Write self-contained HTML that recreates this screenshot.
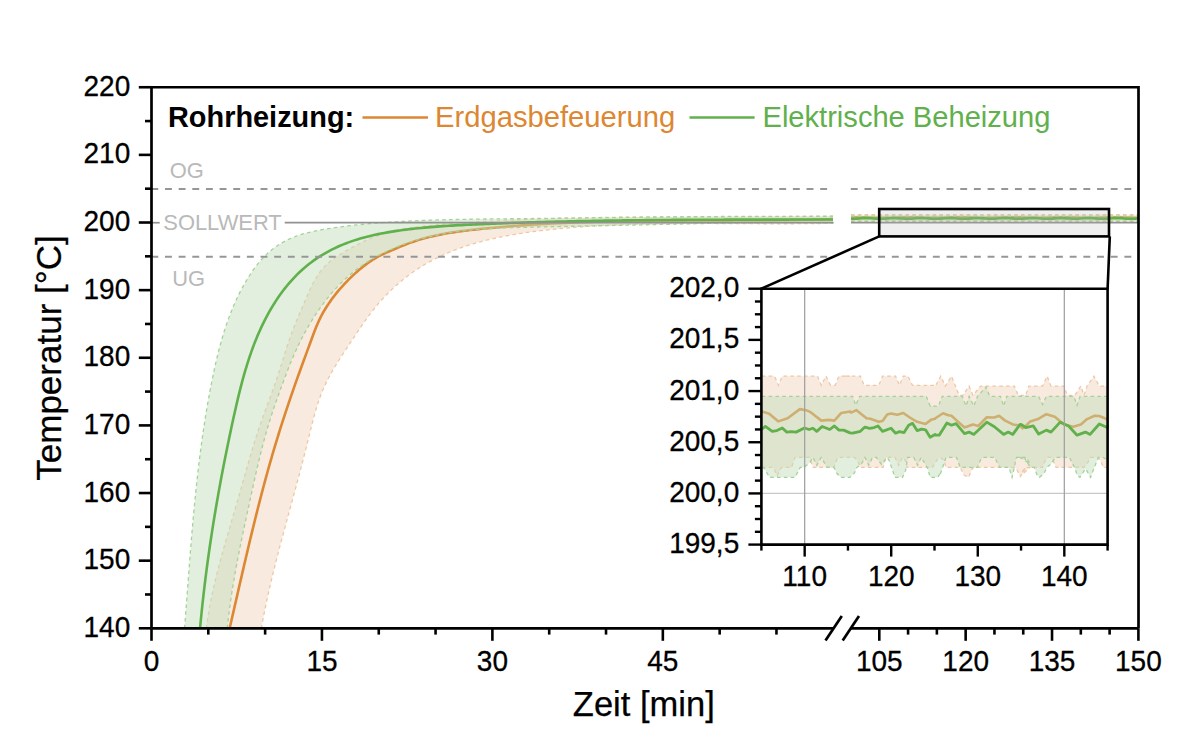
<!DOCTYPE html>
<html><head><meta charset="utf-8"><style>
html,body{margin:0;padding:0;background:#fff;width:1200px;height:750px;overflow:hidden}
svg{display:block}
</style></head><body>
<svg width="1200" height="750" viewBox="0 0 1200 750">
<defs><clipPath id="c1"><rect x="151.5" y="87.25" width="682.1" height="541.05"/></clipPath>
<clipPath id="c2"><rect x="851" y="87.25" width="287.5" height="541.05"/></clipPath>
<clipPath id="ci"><rect x="761.4" y="288.7" width="346.19999999999993" height="255.90000000000003"/></clipPath></defs>
<g clip-path="url(#c1)">
<path d="M206.30,628.30 L206.69,625.29 L207.11,622.29 L207.55,619.30 L208.01,616.31 L208.50,613.33 L209.01,610.35 L209.54,607.38 L210.09,604.42 L210.66,601.46 L211.25,598.50 L211.86,595.55 L212.49,592.61 L213.14,589.67 L213.80,586.73 L214.47,583.80 L215.17,580.87 L215.87,577.94 L216.59,575.02 L217.33,572.10 L218.07,569.19 L218.83,566.28 L219.60,563.37 L220.38,560.46 L221.17,557.56 L221.96,554.65 L222.77,551.75 L223.58,548.86 L224.40,545.96 L225.23,543.06 L226.06,540.17 L226.90,537.28 L227.74,534.38 L228.58,531.49 L229.43,528.60 L230.28,525.71 L231.13,522.82 L231.98,519.93 L232.83,517.04 L233.68,514.15 L234.52,511.25 L235.37,508.36 L236.21,505.47 L237.05,502.57 L237.89,499.67 L238.72,496.78 L239.54,493.88 L240.37,490.98 L241.19,488.07 L242.01,485.17 L242.83,482.27 L243.64,479.37 L244.46,476.47 L245.28,473.57 L246.11,470.67 L246.93,467.77 L247.76,464.87 L248.60,461.97 L249.44,459.08 L250.28,456.19 L251.14,453.30 L252.00,450.41 L252.87,447.53 L253.75,444.65 L254.64,441.77 L255.54,438.90 L256.45,436.03 L257.37,433.17 L258.31,430.31 L259.27,427.45 L260.23,424.60 L261.22,421.76 L262.22,418.92 L263.23,416.09 L264.26,413.26 L265.30,410.43 L266.35,407.61 L267.40,404.79 L268.45,401.97 L269.51,399.15 L270.56,396.33 L271.60,393.50 L272.64,390.67 L273.66,387.83 L274.67,384.99 L275.67,382.15 L276.64,379.29 L277.59,376.43 L278.53,373.56 L279.45,370.68 L280.36,367.80 L281.26,364.92 L282.16,362.04 L283.05,359.16 L283.95,356.28 L284.86,353.40 L285.77,350.53 L286.69,347.66 L287.63,344.81 L288.59,341.96 L289.56,339.12 L290.57,336.30 L291.60,333.48 L292.65,330.68 L293.73,327.89 L294.82,325.11 L295.94,322.33 L297.07,319.56 L298.22,316.79 L299.38,314.02 L300.56,311.26 L301.74,308.48 L302.93,305.71 L304.12,302.93 L305.31,300.14 L306.51,297.34 L307.73,294.55 L308.96,291.76 L310.23,288.99 L311.54,286.25 L312.90,283.55 L314.33,280.89 L315.84,278.28 L317.44,275.74 L319.13,273.26 L320.91,270.87 L322.79,268.57 L324.77,266.36 L326.85,264.25 L329.04,262.26 L331.33,260.38 L333.71,258.59 L336.17,256.90 L338.69,255.27 L341.27,253.69 L343.88,252.16 L346.53,250.65 L349.19,249.15 L351.87,247.66 L354.56,246.20 L357.27,244.76 L360.00,243.36 L362.74,242.00 L365.50,240.69 L368.28,239.43 L371.07,238.23 L373.88,237.09 L376.70,236.02 L379.54,235.03 L382.40,234.09 L385.27,233.22 L388.15,232.41 L391.05,231.65 L393.95,230.94 L396.87,230.29 L399.80,229.68 L402.74,229.12 L405.69,228.59 L408.65,228.11 L411.62,227.66 L414.59,227.25 L417.57,226.86 L420.56,226.50 L423.55,226.17 L426.54,225.86 L429.54,225.56 L432.54,225.28 L435.54,225.02 L438.55,224.76 L441.55,224.51 L444.55,224.26 L447.56,224.03 L450.56,223.79 L453.57,223.56 L456.58,223.34 L459.58,223.12 L462.59,222.91 L465.59,222.70 L468.60,222.50 L471.61,222.30 L474.61,222.10 L477.62,221.91 L480.63,221.73 L483.64,221.55 L486.64,221.38 L489.65,221.21 L492.66,221.04 L495.67,220.88 L498.68,220.72 L501.68,220.57 L504.69,220.42 L507.70,220.27 L510.71,220.13 L513.72,220.00 L516.73,219.86 L519.74,219.73 L522.75,219.61 L525.76,219.49 L528.77,219.37 L531.78,219.26 L534.79,219.15 L537.80,219.04 L540.81,218.93 L543.82,218.83 L546.83,218.74 L549.84,218.65 L552.85,218.56 L555.86,218.47 L558.87,218.38 L561.89,218.30 L564.90,218.23 L567.91,218.15 L570.92,218.08 L573.93,218.01 L576.94,217.94 L579.96,217.88 L582.97,217.82 L585.98,217.76 L588.99,217.70 L592.01,217.65 L595.02,217.60 L598.03,217.55 L601.04,217.50 L604.06,217.46 L607.07,217.42 L610.08,217.38 L613.09,217.34 L616.11,217.30 L619.12,217.27 L622.13,217.24 L625.15,217.21 L628.16,217.18 L631.17,217.15 L634.18,217.12 L637.20,217.10 L640.21,217.08 L643.22,217.06 L646.24,217.04 L649.25,217.02 L652.26,217.00 L655.28,216.98 L658.29,216.97 L661.30,216.96 L664.32,216.94 L667.33,216.93 L670.35,216.92 L673.36,216.91 L676.37,216.90 L679.39,216.89 L682.40,216.88 L685.41,216.87 L688.43,216.87 L691.44,216.86 L694.45,216.85 L697.47,216.85 L700.48,216.84 L703.49,216.84 L706.51,216.83 L709.52,216.83 L712.53,216.82 L715.55,216.81 L718.56,216.81 L721.57,216.80 L724.58,216.80 L727.60,216.79 L730.61,216.79 L733.62,216.78 L736.64,216.77 L739.65,216.76 L742.66,216.75 L745.67,216.75 L748.69,216.74 L751.70,216.73 L754.71,216.71 L757.72,216.70 L760.74,216.69 L763.75,216.67 L766.76,216.66 L769.77,216.64 L772.78,216.63 L775.80,216.61 L778.81,216.59 L781.82,216.57 L784.83,216.54 L787.84,216.52 L790.85,216.49 L793.86,216.46 L796.88,216.44 L799.89,216.40 L802.90,216.37 L805.91,216.34 L808.92,216.30 L811.93,216.26 L814.94,216.22 L817.95,216.18 L820.96,216.13 L823.97,216.09 L826.98,216.04 L829.99,215.99 L833.00,215.93 L833.02,223.22 L830.24,223.28 L827.46,223.34 L824.68,223.40 L821.90,223.45 L819.13,223.49 L816.35,223.53 L813.57,223.57 L810.80,223.60 L808.03,223.63 L805.26,223.66 L802.48,223.68 L799.71,223.70 L796.95,223.72 L794.18,223.74 L791.41,223.75 L788.64,223.76 L785.88,223.76 L783.12,223.77 L780.35,223.77 L777.59,223.77 L774.83,223.77 L772.07,223.76 L769.31,223.75 L766.55,223.75 L763.79,223.74 L761.03,223.73 L758.27,223.72 L755.52,223.70 L752.76,223.69 L750.01,223.68 L747.25,223.66 L744.50,223.65 L741.74,223.63 L738.99,223.62 L736.24,223.60 L733.49,223.58 L730.74,223.57 L727.99,223.55 L725.24,223.54 L722.49,223.52 L719.74,223.51 L716.99,223.50 L714.24,223.49 L711.49,223.47 L708.74,223.47 L706.00,223.46 L703.25,223.45 L700.50,223.45 L697.76,223.44 L695.01,223.44 L692.26,223.44 L689.52,223.45 L686.77,223.45 L684.03,223.46 L681.28,223.47 L678.54,223.49 L675.79,223.50 L673.05,223.52 L670.30,223.54 L667.56,223.57 L664.82,223.60 L662.07,223.63 L659.33,223.67 L656.58,223.71 L653.84,223.75 L651.09,223.80 L648.35,223.86 L645.60,223.91 L642.86,223.97 L640.11,224.04 L637.37,224.11 L634.63,224.19 L631.88,224.27 L629.13,224.36 L626.39,224.45 L623.64,224.54 L620.90,224.65 L618.15,224.76 L615.40,224.87 L612.66,224.99 L609.91,225.12 L607.16,225.25 L604.41,225.39 L601.67,225.53 L598.92,225.69 L596.17,225.85 L593.42,226.01 L590.67,226.18 L587.92,226.37 L585.17,226.55 L582.42,226.75 L579.66,226.95 L576.91,227.16 L574.16,227.38 L571.40,227.61 L568.65,227.84 L565.89,228.08 L563.14,228.34 L560.38,228.60 L557.62,228.86 L554.87,229.14 L552.11,229.43 L549.35,229.72 L546.59,230.03 L543.83,230.34 L541.07,230.67 L538.31,231.00 L535.55,231.35 L532.79,231.71 L530.03,232.08 L527.27,232.46 L524.52,232.86 L521.77,233.27 L519.02,233.70 L516.27,234.14 L513.53,234.59 L510.79,235.07 L508.06,235.56 L505.33,236.07 L502.61,236.60 L499.89,237.15 L497.18,237.71 L494.47,238.30 L491.78,238.91 L489.09,239.54 L486.41,240.19 L483.73,240.86 L481.07,241.56 L478.41,242.28 L475.76,243.03 L473.13,243.80 L470.50,244.60 L467.89,245.42 L465.28,246.27 L462.69,247.15 L460.11,248.06 L457.54,248.99 L454.98,249.95 L452.44,250.95 L449.91,251.97 L447.40,253.03 L444.90,254.12 L442.41,255.24 L439.94,256.39 L437.49,257.58 L435.05,258.80 L432.63,260.05 L430.22,261.35 L427.83,262.67 L425.46,264.04 L423.11,265.44 L420.78,266.88 L418.46,268.35 L416.16,269.87 L413.89,271.43 L411.63,273.02 L409.40,274.65 L407.19,276.31 L405.00,278.01 L402.84,279.75 L400.70,281.51 L398.58,283.31 L396.49,285.15 L394.43,287.01 L392.39,288.90 L390.38,290.83 L388.40,292.78 L386.45,294.76 L384.53,296.77 L382.64,298.80 L380.78,300.86 L378.95,302.94 L377.16,305.05 L375.40,307.18 L373.67,309.33 L371.97,311.51 L370.31,313.70 L368.66,315.91 L367.04,318.13 L365.45,320.37 L363.86,322.62 L362.30,324.89 L360.74,327.16 L359.20,329.44 L357.66,331.73 L356.13,334.03 L354.60,336.32 L353.07,338.62 L351.54,340.92 L350.00,343.22 L348.46,345.52 L346.93,347.83 L345.40,350.14 L343.88,352.45 L342.38,354.77 L340.88,357.10 L339.39,359.43 L337.93,361.77 L336.48,364.12 L335.05,366.48 L333.65,368.85 L332.27,371.24 L330.93,373.63 L329.61,376.04 L328.32,378.47 L327.07,380.91 L325.86,383.36 L324.69,385.84 L323.56,388.33 L322.48,390.84 L321.44,393.37 L320.45,395.92 L319.51,398.50 L318.61,401.09 L317.75,403.69 L316.93,406.32 L316.14,408.95 L315.37,411.60 L314.63,414.25 L313.91,416.91 L313.20,419.58 L312.50,422.25 L311.82,424.93 L311.14,427.61 L310.46,430.29 L309.79,432.97 L309.13,435.65 L308.47,438.33 L307.81,441.02 L307.14,443.70 L306.48,446.38 L305.81,449.06 L305.14,451.74 L304.47,454.42 L303.79,457.10 L303.10,459.77 L302.41,462.44 L301.72,465.12 L301.02,467.79 L300.32,470.46 L299.62,473.12 L298.91,475.79 L298.20,478.46 L297.49,481.12 L296.77,483.78 L296.06,486.45 L295.34,489.11 L294.62,491.77 L293.90,494.43 L293.17,497.09 L292.45,499.75 L291.73,502.41 L291.00,505.07 L290.28,507.73 L289.55,510.39 L288.83,513.05 L288.11,515.70 L287.38,518.36 L286.66,521.02 L285.94,523.68 L285.22,526.34 L284.51,529.00 L283.79,531.66 L283.08,534.32 L282.37,536.98 L281.66,539.64 L280.95,542.30 L280.25,544.97 L279.55,547.63 L278.86,550.29 L278.17,552.96 L277.48,555.63 L276.80,558.29 L276.12,560.96 L275.44,563.63 L274.78,566.31 L274.11,568.98 L273.45,571.65 L272.80,574.33 L272.16,577.01 L271.52,579.69 L270.88,582.37 L270.26,585.05 L269.64,587.74 L269.02,590.43 L268.42,593.12 L267.82,595.81 L267.23,598.50 L266.65,601.20 L266.07,603.90 L265.51,606.60 L264.95,609.30 L264.40,612.01 L263.87,614.72 L263.34,617.43 L262.82,620.15 L262.31,622.86 L261.81,625.59 L261.32,628.31 Z" fill="rgb(248,234,223)"/>
<path d="M206.30,628.30 L206.69,625.29 L207.11,622.29 L207.55,619.30 L208.01,616.31 L208.50,613.33 L209.01,610.35 L209.54,607.38 L210.09,604.42 L210.66,601.46 L211.25,598.50 L211.86,595.55 L212.49,592.61 L213.14,589.67 L213.80,586.73 L214.47,583.80 L215.17,580.87 L215.87,577.94 L216.59,575.02 L217.33,572.10 L218.07,569.19 L218.83,566.28 L219.60,563.37 L220.38,560.46 L221.17,557.56 L221.96,554.65 L222.77,551.75 L223.58,548.86 L224.40,545.96 L225.23,543.06 L226.06,540.17 L226.90,537.28 L227.74,534.38 L228.58,531.49 L229.43,528.60 L230.28,525.71 L231.13,522.82 L231.98,519.93 L232.83,517.04 L233.68,514.15 L234.52,511.25 L235.37,508.36 L236.21,505.47 L237.05,502.57 L237.89,499.67 L238.72,496.78 L239.54,493.88 L240.37,490.98 L241.19,488.07 L242.01,485.17 L242.83,482.27 L243.64,479.37 L244.46,476.47 L245.28,473.57 L246.11,470.67 L246.93,467.77 L247.76,464.87 L248.60,461.97 L249.44,459.08 L250.28,456.19 L251.14,453.30 L252.00,450.41 L252.87,447.53 L253.75,444.65 L254.64,441.77 L255.54,438.90 L256.45,436.03 L257.37,433.17 L258.31,430.31 L259.27,427.45 L260.23,424.60 L261.22,421.76 L262.22,418.92 L263.23,416.09 L264.26,413.26 L265.30,410.43 L266.35,407.61 L267.40,404.79 L268.45,401.97 L269.51,399.15 L270.56,396.33 L271.60,393.50 L272.64,390.67 L273.66,387.83 L274.67,384.99 L275.67,382.15 L276.64,379.29 L277.59,376.43 L278.53,373.56 L279.45,370.68 L280.36,367.80 L281.26,364.92 L282.16,362.04 L283.05,359.16 L283.95,356.28 L284.86,353.40 L285.77,350.53 L286.69,347.66 L287.63,344.81 L288.59,341.96 L289.56,339.12 L290.57,336.30 L291.60,333.48 L292.65,330.68 L293.73,327.89 L294.82,325.11 L295.94,322.33 L297.07,319.56 L298.22,316.79 L299.38,314.02 L300.56,311.26 L301.74,308.48 L302.93,305.71 L304.12,302.93 L305.31,300.14 L306.51,297.34 L307.73,294.55 L308.96,291.76 L310.23,288.99 L311.54,286.25 L312.90,283.55 L314.33,280.89 L315.84,278.28 L317.44,275.74 L319.13,273.26 L320.91,270.87 L322.79,268.57 L324.77,266.36 L326.85,264.25 L329.04,262.26 L331.33,260.38 L333.71,258.59 L336.17,256.90 L338.69,255.27 L341.27,253.69 L343.88,252.16 L346.53,250.65 L349.19,249.15 L351.87,247.66 L354.56,246.20 L357.27,244.76 L360.00,243.36 L362.74,242.00 L365.50,240.69 L368.28,239.43 L371.07,238.23 L373.88,237.09 L376.70,236.02 L379.54,235.03 L382.40,234.09 L385.27,233.22 L388.15,232.41 L391.05,231.65 L393.95,230.94 L396.87,230.29 L399.80,229.68 L402.74,229.12 L405.69,228.59 L408.65,228.11 L411.62,227.66 L414.59,227.25 L417.57,226.86 L420.56,226.50 L423.55,226.17 L426.54,225.86 L429.54,225.56 L432.54,225.28 L435.54,225.02 L438.55,224.76 L441.55,224.51 L444.55,224.26 L447.56,224.03 L450.56,223.79 L453.57,223.56 L456.58,223.34 L459.58,223.12 L462.59,222.91 L465.59,222.70 L468.60,222.50 L471.61,222.30 L474.61,222.10 L477.62,221.91 L480.63,221.73 L483.64,221.55 L486.64,221.38 L489.65,221.21 L492.66,221.04 L495.67,220.88 L498.68,220.72 L501.68,220.57 L504.69,220.42 L507.70,220.27 L510.71,220.13 L513.72,220.00 L516.73,219.86 L519.74,219.73 L522.75,219.61 L525.76,219.49 L528.77,219.37 L531.78,219.26 L534.79,219.15 L537.80,219.04 L540.81,218.93 L543.82,218.83 L546.83,218.74 L549.84,218.65 L552.85,218.56 L555.86,218.47 L558.87,218.38 L561.89,218.30 L564.90,218.23 L567.91,218.15 L570.92,218.08 L573.93,218.01 L576.94,217.94 L579.96,217.88 L582.97,217.82 L585.98,217.76 L588.99,217.70 L592.01,217.65 L595.02,217.60 L598.03,217.55 L601.04,217.50 L604.06,217.46 L607.07,217.42 L610.08,217.38 L613.09,217.34 L616.11,217.30 L619.12,217.27 L622.13,217.24 L625.15,217.21 L628.16,217.18 L631.17,217.15 L634.18,217.12 L637.20,217.10 L640.21,217.08 L643.22,217.06 L646.24,217.04 L649.25,217.02 L652.26,217.00 L655.28,216.98 L658.29,216.97 L661.30,216.96 L664.32,216.94 L667.33,216.93 L670.35,216.92 L673.36,216.91 L676.37,216.90 L679.39,216.89 L682.40,216.88 L685.41,216.87 L688.43,216.87 L691.44,216.86 L694.45,216.85 L697.47,216.85 L700.48,216.84 L703.49,216.84 L706.51,216.83 L709.52,216.83 L712.53,216.82 L715.55,216.81 L718.56,216.81 L721.57,216.80 L724.58,216.80 L727.60,216.79 L730.61,216.79 L733.62,216.78 L736.64,216.77 L739.65,216.76 L742.66,216.75 L745.67,216.75 L748.69,216.74 L751.70,216.73 L754.71,216.71 L757.72,216.70 L760.74,216.69 L763.75,216.67 L766.76,216.66 L769.77,216.64 L772.78,216.63 L775.80,216.61 L778.81,216.59 L781.82,216.57 L784.83,216.54 L787.84,216.52 L790.85,216.49 L793.86,216.46 L796.88,216.44 L799.89,216.40 L802.90,216.37 L805.91,216.34 L808.92,216.30 L811.93,216.26 L814.94,216.22 L817.95,216.18 L820.96,216.13 L823.97,216.09 L826.98,216.04 L829.99,215.99 L833.00,215.93" fill="none" stroke="rgb(238,200,165)" stroke-width="1.3" stroke-dasharray="3.6 3.2"/>
<path d="M261.32,628.31 L261.81,625.59 L262.31,622.86 L262.82,620.15 L263.34,617.43 L263.87,614.72 L264.40,612.01 L264.95,609.30 L265.51,606.60 L266.07,603.90 L266.65,601.20 L267.23,598.50 L267.82,595.81 L268.42,593.12 L269.02,590.43 L269.64,587.74 L270.26,585.05 L270.88,582.37 L271.52,579.69 L272.16,577.01 L272.80,574.33 L273.45,571.65 L274.11,568.98 L274.78,566.31 L275.44,563.63 L276.12,560.96 L276.80,558.29 L277.48,555.63 L278.17,552.96 L278.86,550.29 L279.55,547.63 L280.25,544.97 L280.95,542.30 L281.66,539.64 L282.37,536.98 L283.08,534.32 L283.79,531.66 L284.51,529.00 L285.22,526.34 L285.94,523.68 L286.66,521.02 L287.38,518.36 L288.11,515.70 L288.83,513.05 L289.55,510.39 L290.28,507.73 L291.00,505.07 L291.73,502.41 L292.45,499.75 L293.17,497.09 L293.90,494.43 L294.62,491.77 L295.34,489.11 L296.06,486.45 L296.77,483.78 L297.49,481.12 L298.20,478.46 L298.91,475.79 L299.62,473.12 L300.32,470.46 L301.02,467.79 L301.72,465.12 L302.41,462.44 L303.10,459.77 L303.79,457.10 L304.47,454.42 L305.14,451.74 L305.81,449.06 L306.48,446.38 L307.14,443.70 L307.81,441.02 L308.47,438.33 L309.13,435.65 L309.79,432.97 L310.46,430.29 L311.14,427.61 L311.82,424.93 L312.50,422.25 L313.20,419.58 L313.91,416.91 L314.63,414.25 L315.37,411.60 L316.14,408.95 L316.93,406.32 L317.75,403.69 L318.61,401.09 L319.51,398.50 L320.45,395.92 L321.44,393.37 L322.48,390.84 L323.56,388.33 L324.69,385.84 L325.86,383.36 L327.07,380.91 L328.32,378.47 L329.61,376.04 L330.93,373.63 L332.27,371.24 L333.65,368.85 L335.05,366.48 L336.48,364.12 L337.93,361.77 L339.39,359.43 L340.88,357.10 L342.38,354.77 L343.88,352.45 L345.40,350.14 L346.93,347.83 L348.46,345.52 L350.00,343.22 L351.54,340.92 L353.07,338.62 L354.60,336.32 L356.13,334.03 L357.66,331.73 L359.20,329.44 L360.74,327.16 L362.30,324.89 L363.86,322.62 L365.45,320.37 L367.04,318.13 L368.66,315.91 L370.31,313.70 L371.97,311.51 L373.67,309.33 L375.40,307.18 L377.16,305.05 L378.95,302.94 L380.78,300.86 L382.64,298.80 L384.53,296.77 L386.45,294.76 L388.40,292.78 L390.38,290.83 L392.39,288.90 L394.43,287.01 L396.49,285.15 L398.58,283.31 L400.70,281.51 L402.84,279.75 L405.00,278.01 L407.19,276.31 L409.40,274.65 L411.63,273.02 L413.89,271.43 L416.16,269.87 L418.46,268.35 L420.78,266.88 L423.11,265.44 L425.46,264.04 L427.83,262.67 L430.22,261.35 L432.63,260.05 L435.05,258.80 L437.49,257.58 L439.94,256.39 L442.41,255.24 L444.90,254.12 L447.40,253.03 L449.91,251.97 L452.44,250.95 L454.98,249.95 L457.54,248.99 L460.11,248.06 L462.69,247.15 L465.28,246.27 L467.89,245.42 L470.50,244.60 L473.13,243.80 L475.76,243.03 L478.41,242.28 L481.07,241.56 L483.73,240.86 L486.41,240.19 L489.09,239.54 L491.78,238.91 L494.47,238.30 L497.18,237.71 L499.89,237.15 L502.61,236.60 L505.33,236.07 L508.06,235.56 L510.79,235.07 L513.53,234.59 L516.27,234.14 L519.02,233.70 L521.77,233.27 L524.52,232.86 L527.27,232.46 L530.03,232.08 L532.79,231.71 L535.55,231.35 L538.31,231.00 L541.07,230.67 L543.83,230.34 L546.59,230.03 L549.35,229.72 L552.11,229.43 L554.87,229.14 L557.62,228.86 L560.38,228.60 L563.14,228.34 L565.89,228.08 L568.65,227.84 L571.40,227.61 L574.16,227.38 L576.91,227.16 L579.66,226.95 L582.42,226.75 L585.17,226.55 L587.92,226.37 L590.67,226.18 L593.42,226.01 L596.17,225.85 L598.92,225.69 L601.67,225.53 L604.41,225.39 L607.16,225.25 L609.91,225.12 L612.66,224.99 L615.40,224.87 L618.15,224.76 L620.90,224.65 L623.64,224.54 L626.39,224.45 L629.13,224.36 L631.88,224.27 L634.63,224.19 L637.37,224.11 L640.11,224.04 L642.86,223.97 L645.60,223.91 L648.35,223.86 L651.09,223.80 L653.84,223.75 L656.58,223.71 L659.33,223.67 L662.07,223.63 L664.82,223.60 L667.56,223.57 L670.30,223.54 L673.05,223.52 L675.79,223.50 L678.54,223.49 L681.28,223.47 L684.03,223.46 L686.77,223.45 L689.52,223.45 L692.26,223.44 L695.01,223.44 L697.76,223.44 L700.50,223.45 L703.25,223.45 L706.00,223.46 L708.74,223.47 L711.49,223.47 L714.24,223.49 L716.99,223.50 L719.74,223.51 L722.49,223.52 L725.24,223.54 L727.99,223.55 L730.74,223.57 L733.49,223.58 L736.24,223.60 L738.99,223.62 L741.74,223.63 L744.50,223.65 L747.25,223.66 L750.01,223.68 L752.76,223.69 L755.52,223.70 L758.27,223.72 L761.03,223.73 L763.79,223.74 L766.55,223.75 L769.31,223.75 L772.07,223.76 L774.83,223.77 L777.59,223.77 L780.35,223.77 L783.12,223.77 L785.88,223.76 L788.64,223.76 L791.41,223.75 L794.18,223.74 L796.95,223.72 L799.71,223.70 L802.48,223.68 L805.26,223.66 L808.03,223.63 L810.80,223.60 L813.57,223.57 L816.35,223.53 L819.13,223.49 L821.90,223.45 L824.68,223.40 L827.46,223.34 L830.24,223.28 L833.02,223.22" fill="none" stroke="rgb(238,200,165)" stroke-width="1.3" stroke-dasharray="3.6 3.2"/>
<path d="M229.63,628.31 L230.28,625.48 L230.94,622.64 L231.59,619.81 L232.24,616.98 L232.89,614.15 L233.54,611.31 L234.19,608.48 L234.84,605.65 L235.49,602.82 L236.14,599.98 L236.79,597.15 L237.43,594.32 L238.08,591.49 L238.73,588.65 L239.38,585.82 L240.03,582.99 L240.68,580.16 L241.34,577.33 L241.99,574.49 L242.64,571.66 L243.30,568.83 L243.95,566.00 L244.61,563.17 L245.27,560.34 L245.93,557.51 L246.60,554.69 L247.26,551.86 L247.93,549.03 L248.60,546.20 L249.27,543.38 L249.95,540.55 L250.62,537.73 L251.30,534.90 L251.99,532.08 L252.67,529.26 L253.36,526.44 L254.05,523.62 L254.75,520.80 L255.45,517.98 L256.15,515.16 L256.86,512.34 L257.57,509.53 L258.28,506.71 L259.00,503.90 L259.72,501.08 L260.45,498.27 L261.18,495.46 L261.92,492.65 L262.66,489.84 L263.40,487.04 L264.15,484.23 L264.91,481.43 L265.67,478.62 L266.43,475.82 L267.21,473.02 L267.98,470.22 L268.77,467.43 L269.56,464.63 L270.35,461.84 L271.15,459.05 L271.96,456.25 L272.77,453.46 L273.59,450.68 L274.42,447.89 L275.25,445.11 L276.09,442.32 L276.94,439.54 L277.79,436.76 L278.65,433.99 L279.52,431.21 L280.39,428.44 L281.27,425.67 L282.15,422.90 L283.04,420.13 L283.94,417.37 L284.84,414.60 L285.75,411.84 L286.66,409.08 L287.58,406.33 L288.50,403.57 L289.43,400.82 L290.37,398.07 L291.31,395.33 L292.26,392.58 L293.21,389.84 L294.17,387.10 L295.13,384.36 L296.10,381.63 L297.07,378.89 L298.05,376.16 L299.03,373.44 L300.01,370.71 L301.00,367.99 L302.00,365.26 L302.99,362.54 L303.99,359.81 L304.99,357.09 L305.99,354.36 L306.99,351.64 L307.99,348.91 L308.99,346.18 L309.99,343.44 L311.00,340.71 L312.00,337.97 L313.01,335.23 L314.03,332.50 L315.08,329.78 L316.16,327.08 L317.29,324.40 L318.46,321.74 L319.69,319.12 L320.99,316.53 L322.34,313.98 L323.76,311.46 L325.24,308.97 L326.77,306.51 L328.36,304.09 L330.00,301.70 L331.68,299.33 L333.42,297.00 L335.20,294.70 L337.02,292.43 L338.89,290.19 L340.80,287.98 L342.74,285.80 L344.72,283.65 L346.74,281.54 L348.79,279.46 L350.88,277.41 L352.99,275.39 L355.13,273.40 L357.30,271.45 L359.49,269.55 L361.73,267.68 L363.99,265.87 L366.30,264.12 L368.64,262.43 L371.03,260.81 L373.46,259.26 L375.94,257.79 L378.46,256.40 L381.03,255.10 L383.65,253.86 L386.29,252.66 L388.95,251.50 L391.63,250.35 L394.32,249.20 L397.01,248.05 L399.72,246.91 L402.43,245.79 L405.15,244.70 L407.87,243.65 L410.62,242.63 L413.37,241.67 L416.13,240.75 L418.90,239.88 L421.69,239.05 L424.48,238.27 L427.28,237.53 L430.09,236.82 L432.91,236.16 L435.74,235.52 L438.58,234.93 L441.42,234.36 L444.27,233.82 L447.12,233.32 L449.98,232.84 L452.85,232.38 L455.72,231.95 L458.59,231.54 L461.47,231.15 L464.35,230.78 L467.24,230.42 L470.13,230.08 L473.02,229.75 L475.91,229.44 L478.80,229.13 L481.69,228.83 L484.58,228.54 L487.48,228.25 L490.37,227.98 L493.26,227.71 L496.16,227.44 L499.05,227.18 L501.95,226.93 L504.84,226.69 L507.74,226.45 L510.63,226.22 L513.53,225.99 L516.43,225.77 L519.32,225.56 L522.22,225.35 L525.12,225.15 L528.02,224.95 L530.92,224.76 L533.81,224.57 L536.71,224.39 L539.61,224.22 L542.51,224.05 L545.41,223.89 L548.31,223.73 L551.21,223.57 L554.11,223.42 L557.01,223.28 L559.92,223.14 L562.82,223.01 L565.72,222.88 L568.62,222.75 L571.52,222.63 L574.43,222.52 L577.33,222.40 L580.23,222.30 L583.13,222.19 L586.04,222.09 L588.94,222.00 L591.84,221.91 L594.75,221.82 L597.65,221.73 L600.56,221.65 L603.46,221.57 L606.37,221.50 L609.27,221.43 L612.18,221.36 L615.08,221.30 L617.99,221.24 L620.89,221.18 L623.80,221.12 L626.70,221.07 L629.61,221.02 L632.52,220.98 L635.42,220.93 L638.33,220.89 L641.23,220.85 L644.14,220.81 L647.05,220.78 L649.95,220.74 L652.86,220.71 L655.77,220.68 L658.67,220.66 L661.58,220.63 L664.49,220.61 L667.39,220.59 L670.30,220.56 L673.21,220.55 L676.11,220.53 L679.02,220.51 L681.93,220.50 L684.84,220.48 L687.74,220.47 L690.65,220.46 L693.56,220.44 L696.46,220.43 L699.37,220.42 L702.28,220.41 L705.19,220.40 L708.09,220.40 L711.00,220.39 L713.91,220.38 L716.81,220.37 L719.72,220.36 L722.63,220.35 L725.54,220.35 L728.44,220.34 L731.35,220.33 L734.26,220.32 L737.16,220.31 L740.07,220.30 L742.98,220.29 L745.88,220.28 L748.79,220.27 L751.69,220.25 L754.60,220.24 L757.51,220.22 L760.41,220.21 L763.32,220.19 L766.22,220.17 L769.13,220.15 L772.03,220.13 L774.94,220.10 L777.84,220.08 L780.75,220.05 L783.65,220.02 L786.56,219.99 L789.46,219.96 L792.36,219.92 L795.27,219.89 L798.17,219.85 L801.07,219.80 L803.98,219.76 L806.88,219.71 L809.78,219.66 L812.69,219.61 L815.59,219.56 L818.49,219.50 L821.39,219.44 L824.29,219.37 L827.19,219.31 L830.10,219.23 L833.00,219.16" fill="none" stroke="rgb(220,135,50)" stroke-width="2.6"/>
<path d="M184.54,628.30 L184.79,625.09 L185.04,621.88 L185.29,618.68 L185.53,615.47 L185.78,612.26 L186.02,609.06 L186.27,605.85 L186.51,602.64 L186.75,599.43 L186.99,596.22 L187.24,593.02 L187.48,589.81 L187.72,586.60 L187.96,583.39 L188.20,580.18 L188.45,576.97 L188.69,573.76 L188.94,570.55 L189.18,567.35 L189.43,564.14 L189.68,560.93 L189.93,557.72 L190.18,554.51 L190.44,551.30 L190.70,548.10 L190.96,544.89 L191.22,541.68 L191.48,538.47 L191.75,535.27 L192.02,532.06 L192.30,528.85 L192.58,525.65 L192.86,522.44 L193.14,519.24 L193.43,516.03 L193.73,512.83 L194.03,509.62 L194.33,506.42 L194.64,503.22 L194.95,500.02 L195.27,496.81 L195.60,493.61 L195.92,490.41 L196.26,487.21 L196.60,484.02 L196.95,480.82 L197.30,477.62 L197.66,474.42 L198.03,471.23 L198.40,468.03 L198.78,464.84 L199.17,461.64 L199.56,458.45 L199.96,455.26 L200.37,452.07 L200.79,448.88 L201.21,445.69 L201.65,442.50 L202.09,439.32 L202.54,436.13 L203.00,432.95 L203.47,429.77 L203.94,426.58 L204.43,423.40 L204.93,420.22 L205.43,417.04 L205.95,413.87 L206.47,410.69 L207.01,407.52 L207.55,404.34 L208.11,401.17 L208.68,398.00 L209.25,394.83 L209.84,391.66 L210.44,388.50 L211.06,385.33 L211.68,382.17 L212.31,379.01 L212.96,375.85 L213.62,372.69 L214.30,369.53 L214.99,366.38 L215.70,363.23 L216.42,360.09 L217.17,356.95 L217.93,353.82 L218.72,350.70 L219.53,347.58 L220.37,344.47 L221.23,341.37 L222.11,338.28 L223.03,335.20 L223.97,332.13 L224.94,329.07 L225.94,326.02 L226.98,322.98 L228.05,319.95 L229.15,316.94 L230.29,313.95 L231.47,310.96 L232.68,308.00 L233.93,305.04 L235.23,302.11 L236.56,299.19 L237.94,296.29 L239.36,293.41 L240.83,290.54 L242.34,287.70 L243.90,284.88 L245.51,282.07 L247.17,279.29 L248.88,276.53 L250.64,273.80 L252.46,271.11 L254.34,268.46 L256.28,265.86 L258.29,263.32 L260.36,260.84 L262.51,258.44 L264.73,256.12 L267.02,253.88 L269.40,251.74 L271.85,249.70 L274.39,247.76 L276.99,245.93 L279.67,244.20 L282.42,242.57 L285.23,241.04 L288.09,239.61 L291.00,238.28 L293.96,237.05 L296.97,235.91 L300.01,234.88 L303.08,233.93 L306.18,233.07 L309.31,232.28 L312.45,231.57 L315.61,230.90 L318.79,230.28 L321.96,229.70 L325.14,229.15 L328.33,228.62 L331.52,228.12 L334.70,227.65 L337.90,227.20 L341.09,226.77 L344.28,226.36 L347.48,225.96 L350.67,225.59 L353.87,225.23 L357.06,224.88 L360.26,224.56 L363.46,224.25 L366.66,223.95 L369.86,223.67 L373.06,223.39 L376.26,223.14 L379.46,222.89 L382.66,222.65 L385.87,222.43 L389.07,222.21 L392.28,222.01 L395.48,221.81 L398.69,221.62 L401.90,221.44 L405.11,221.27 L408.32,221.11 L411.53,220.96 L414.74,220.81 L417.95,220.67 L421.16,220.54 L424.38,220.41 L427.59,220.29 L430.80,220.18 L434.02,220.07 L437.23,219.97 L440.45,219.88 L443.66,219.79 L446.88,219.71 L450.10,219.63 L453.32,219.55 L456.53,219.48 L459.75,219.42 L462.97,219.36 L466.19,219.30 L469.41,219.25 L472.62,219.19 L475.84,219.15 L479.06,219.10 L482.28,219.06 L485.50,219.02 L488.72,218.98 L491.94,218.94 L495.16,218.91 L498.38,218.87 L501.60,218.84 L504.82,218.81 L508.04,218.78 L511.26,218.75 L514.48,218.72 L517.70,218.69 L520.92,218.65 L524.14,218.62 L527.36,218.59 L530.58,218.56 L533.80,218.52 L537.02,218.49 L540.23,218.45 L543.45,218.42 L546.67,218.38 L549.89,218.35 L553.11,218.31 L556.33,218.27 L559.54,218.23 L562.76,218.20 L565.98,218.16 L569.20,218.12 L572.41,218.08 L575.63,218.04 L578.85,218.01 L582.07,217.97 L585.28,217.93 L588.50,217.89 L591.72,217.85 L594.93,217.81 L598.15,217.77 L601.37,217.73 L604.58,217.69 L607.80,217.65 L611.02,217.62 L614.23,217.58 L617.45,217.54 L620.67,217.50 L623.88,217.46 L627.10,217.42 L630.32,217.38 L633.53,217.35 L636.75,217.31 L639.96,217.27 L643.18,217.24 L646.40,217.20 L649.61,217.16 L652.83,217.13 L656.04,217.09 L659.26,217.06 L662.48,217.02 L665.69,216.99 L668.91,216.95 L672.13,216.92 L675.34,216.89 L678.56,216.86 L681.77,216.83 L684.99,216.80 L688.21,216.77 L691.42,216.74 L694.64,216.71 L697.85,216.68 L701.07,216.65 L704.29,216.63 L707.50,216.60 L710.72,216.58 L713.93,216.55 L717.15,216.53 L720.37,216.51 L723.58,216.49 L726.80,216.47 L730.02,216.45 L733.23,216.43 L736.45,216.42 L739.67,216.40 L742.88,216.39 L746.10,216.37 L749.32,216.36 L752.54,216.35 L755.75,216.34 L758.97,216.33 L762.19,216.32 L765.41,216.32 L768.62,216.31 L771.84,216.31 L775.06,216.31 L778.28,216.30 L781.49,216.30 L784.71,216.31 L787.93,216.31 L791.15,216.31 L794.37,216.32 L797.59,216.33 L800.81,216.34 L804.02,216.35 L807.24,216.36 L810.46,216.38 L813.68,216.39 L816.90,216.41 L820.12,216.43 L823.34,216.45 L826.56,216.47 L829.78,216.50 L833.00,216.52 L833.00,223.00 L830.07,222.95 L827.14,222.91 L824.21,222.87 L821.28,222.83 L818.35,222.80 L815.43,222.77 L812.50,222.74 L809.57,222.72 L806.64,222.70 L803.72,222.68 L800.79,222.67 L797.87,222.66 L794.94,222.65 L792.02,222.64 L789.09,222.64 L786.17,222.64 L783.24,222.64 L780.32,222.65 L777.40,222.66 L774.47,222.67 L771.55,222.68 L768.63,222.69 L765.71,222.71 L762.78,222.73 L759.86,222.75 L756.94,222.78 L754.02,222.80 L751.10,222.83 L748.18,222.86 L745.26,222.89 L742.34,222.93 L739.41,222.96 L736.49,223.00 L733.57,223.04 L730.65,223.08 L727.73,223.12 L724.81,223.17 L721.89,223.21 L718.97,223.26 L716.05,223.31 L713.13,223.36 L710.22,223.41 L707.30,223.46 L704.38,223.51 L701.46,223.57 L698.54,223.62 L695.62,223.68 L692.70,223.74 L689.78,223.80 L686.86,223.86 L683.94,223.92 L681.02,223.98 L678.10,224.04 L675.18,224.10 L672.26,224.16 L669.34,224.23 L666.42,224.29 L663.50,224.35 L660.58,224.42 L657.65,224.48 L654.73,224.55 L651.81,224.61 L648.89,224.68 L645.97,224.74 L643.05,224.81 L640.13,224.87 L637.20,224.94 L634.28,225.00 L631.36,225.07 L628.43,225.13 L625.51,225.19 L622.59,225.26 L619.66,225.32 L616.74,225.38 L613.81,225.44 L610.89,225.51 L607.96,225.57 L605.04,225.63 L602.11,225.69 L599.19,225.74 L596.26,225.80 L593.33,225.86 L590.40,225.92 L587.48,225.97 L584.55,226.03 L581.62,226.08 L578.69,226.14 L575.77,226.19 L572.84,226.25 L569.91,226.30 L566.98,226.36 L564.05,226.42 L561.13,226.48 L558.20,226.53 L555.27,226.59 L552.35,226.66 L549.42,226.72 L546.50,226.78 L543.57,226.85 L540.65,226.91 L537.72,226.98 L534.80,227.05 L531.88,227.13 L528.95,227.20 L526.03,227.28 L523.11,227.36 L520.20,227.44 L517.28,227.53 L514.36,227.62 L511.44,227.71 L508.53,227.81 L505.62,227.92 L502.70,228.03 L499.79,228.15 L496.88,228.29 L493.97,228.43 L491.06,228.59 L488.16,228.76 L485.25,228.94 L482.35,229.14 L479.45,229.36 L476.54,229.59 L473.64,229.84 L470.75,230.11 L467.85,230.40 L464.96,230.72 L462.06,231.05 L459.17,231.41 L456.28,231.79 L453.39,232.20 L450.51,232.64 L447.62,233.10 L444.74,233.60 L441.86,234.12 L438.98,234.67 L436.10,235.26 L433.23,235.88 L430.36,236.53 L427.49,237.21 L424.64,237.93 L421.79,238.68 L418.94,239.46 L416.11,240.28 L413.29,241.14 L410.48,242.03 L407.69,242.96 L404.91,243.92 L402.14,244.92 L399.39,245.96 L396.65,247.04 L393.94,248.15 L391.24,249.30 L388.57,250.50 L385.91,251.73 L383.28,253.00 L380.67,254.31 L378.09,255.67 L375.53,257.06 L372.99,258.50 L370.49,259.98 L368.01,261.50 L365.57,263.06 L363.15,264.67 L360.77,266.32 L358.42,268.02 L356.10,269.76 L353.82,271.55 L351.58,273.38 L349.37,275.25 L347.19,277.17 L345.05,279.13 L342.94,281.12 L340.86,283.16 L338.82,285.23 L336.81,287.34 L334.84,289.48 L332.90,291.66 L330.99,293.87 L329.11,296.12 L327.27,298.39 L325.45,300.70 L323.67,303.03 L321.92,305.39 L320.20,307.78 L318.52,310.19 L316.86,312.62 L315.23,315.08 L313.64,317.56 L312.07,320.06 L310.54,322.58 L309.03,325.12 L307.55,327.68 L306.11,330.25 L304.69,332.84 L303.30,335.44 L301.94,338.06 L300.60,340.69 L299.30,343.32 L298.02,345.97 L296.77,348.63 L295.55,351.29 L294.35,353.96 L293.18,356.63 L292.04,359.31 L290.92,361.99 L289.83,364.67 L288.77,367.36 L287.72,370.04 L286.69,372.73 L285.67,375.43 L284.65,378.13 L283.64,380.83 L282.63,383.55 L281.62,386.26 L280.62,388.99 L279.62,391.72 L278.62,394.46 L277.63,397.20 L276.66,399.95 L275.69,402.70 L274.73,405.46 L273.78,408.23 L272.84,411.00 L271.92,413.78 L271.02,416.56 L270.13,419.35 L269.26,422.15 L268.41,424.95 L267.57,427.75 L266.75,430.56 L265.95,433.37 L265.16,436.19 L264.39,439.01 L263.63,441.84 L262.88,444.67 L262.14,447.50 L261.42,450.33 L260.71,453.17 L260.01,456.02 L259.31,458.86 L258.63,461.71 L257.96,464.56 L257.29,467.41 L256.63,470.26 L255.98,473.12 L255.33,475.97 L254.69,478.83 L254.06,481.69 L253.42,484.55 L252.79,487.41 L252.17,490.27 L251.54,493.13 L250.92,495.99 L250.30,498.85 L249.68,501.71 L249.06,504.57 L248.44,507.43 L247.82,510.29 L247.20,513.15 L246.58,516.01 L245.96,518.86 L245.35,521.72 L244.74,524.58 L244.13,527.44 L243.52,530.30 L242.92,533.16 L242.32,536.02 L241.73,538.88 L241.14,541.74 L240.56,544.60 L239.98,547.46 L239.41,550.33 L238.84,553.19 L238.28,556.06 L237.72,558.92 L237.18,561.79 L236.64,564.66 L236.10,567.53 L235.58,570.40 L235.06,573.28 L234.56,576.15 L234.06,579.03 L233.57,581.91 L233.09,584.79 L232.62,587.67 L232.16,590.56 L231.71,593.45 L231.28,596.34 L230.85,599.23 L230.44,602.12 L230.03,605.02 L229.65,607.92 L229.27,610.82 L228.91,613.73 L228.56,616.64 L228.22,619.55 L227.90,622.46 L227.59,625.38 L227.30,628.30 Z" fill="rgba(193,221,185,0.47)"/>
<path d="M184.54,628.30 L184.79,625.09 L185.04,621.88 L185.29,618.68 L185.53,615.47 L185.78,612.26 L186.02,609.06 L186.27,605.85 L186.51,602.64 L186.75,599.43 L186.99,596.22 L187.24,593.02 L187.48,589.81 L187.72,586.60 L187.96,583.39 L188.20,580.18 L188.45,576.97 L188.69,573.76 L188.94,570.55 L189.18,567.35 L189.43,564.14 L189.68,560.93 L189.93,557.72 L190.18,554.51 L190.44,551.30 L190.70,548.10 L190.96,544.89 L191.22,541.68 L191.48,538.47 L191.75,535.27 L192.02,532.06 L192.30,528.85 L192.58,525.65 L192.86,522.44 L193.14,519.24 L193.43,516.03 L193.73,512.83 L194.03,509.62 L194.33,506.42 L194.64,503.22 L194.95,500.02 L195.27,496.81 L195.60,493.61 L195.92,490.41 L196.26,487.21 L196.60,484.02 L196.95,480.82 L197.30,477.62 L197.66,474.42 L198.03,471.23 L198.40,468.03 L198.78,464.84 L199.17,461.64 L199.56,458.45 L199.96,455.26 L200.37,452.07 L200.79,448.88 L201.21,445.69 L201.65,442.50 L202.09,439.32 L202.54,436.13 L203.00,432.95 L203.47,429.77 L203.94,426.58 L204.43,423.40 L204.93,420.22 L205.43,417.04 L205.95,413.87 L206.47,410.69 L207.01,407.52 L207.55,404.34 L208.11,401.17 L208.68,398.00 L209.25,394.83 L209.84,391.66 L210.44,388.50 L211.06,385.33 L211.68,382.17 L212.31,379.01 L212.96,375.85 L213.62,372.69 L214.30,369.53 L214.99,366.38 L215.70,363.23 L216.42,360.09 L217.17,356.95 L217.93,353.82 L218.72,350.70 L219.53,347.58 L220.37,344.47 L221.23,341.37 L222.11,338.28 L223.03,335.20 L223.97,332.13 L224.94,329.07 L225.94,326.02 L226.98,322.98 L228.05,319.95 L229.15,316.94 L230.29,313.95 L231.47,310.96 L232.68,308.00 L233.93,305.04 L235.23,302.11 L236.56,299.19 L237.94,296.29 L239.36,293.41 L240.83,290.54 L242.34,287.70 L243.90,284.88 L245.51,282.07 L247.17,279.29 L248.88,276.53 L250.64,273.80 L252.46,271.11 L254.34,268.46 L256.28,265.86 L258.29,263.32 L260.36,260.84 L262.51,258.44 L264.73,256.12 L267.02,253.88 L269.40,251.74 L271.85,249.70 L274.39,247.76 L276.99,245.93 L279.67,244.20 L282.42,242.57 L285.23,241.04 L288.09,239.61 L291.00,238.28 L293.96,237.05 L296.97,235.91 L300.01,234.88 L303.08,233.93 L306.18,233.07 L309.31,232.28 L312.45,231.57 L315.61,230.90 L318.79,230.28 L321.96,229.70 L325.14,229.15 L328.33,228.62 L331.52,228.12 L334.70,227.65 L337.90,227.20 L341.09,226.77 L344.28,226.36 L347.48,225.96 L350.67,225.59 L353.87,225.23 L357.06,224.88 L360.26,224.56 L363.46,224.25 L366.66,223.95 L369.86,223.67 L373.06,223.39 L376.26,223.14 L379.46,222.89 L382.66,222.65 L385.87,222.43 L389.07,222.21 L392.28,222.01 L395.48,221.81 L398.69,221.62 L401.90,221.44 L405.11,221.27 L408.32,221.11 L411.53,220.96 L414.74,220.81 L417.95,220.67 L421.16,220.54 L424.38,220.41 L427.59,220.29 L430.80,220.18 L434.02,220.07 L437.23,219.97 L440.45,219.88 L443.66,219.79 L446.88,219.71 L450.10,219.63 L453.32,219.55 L456.53,219.48 L459.75,219.42 L462.97,219.36 L466.19,219.30 L469.41,219.25 L472.62,219.19 L475.84,219.15 L479.06,219.10 L482.28,219.06 L485.50,219.02 L488.72,218.98 L491.94,218.94 L495.16,218.91 L498.38,218.87 L501.60,218.84 L504.82,218.81 L508.04,218.78 L511.26,218.75 L514.48,218.72 L517.70,218.69 L520.92,218.65 L524.14,218.62 L527.36,218.59 L530.58,218.56 L533.80,218.52 L537.02,218.49 L540.23,218.45 L543.45,218.42 L546.67,218.38 L549.89,218.35 L553.11,218.31 L556.33,218.27 L559.54,218.23 L562.76,218.20 L565.98,218.16 L569.20,218.12 L572.41,218.08 L575.63,218.04 L578.85,218.01 L582.07,217.97 L585.28,217.93 L588.50,217.89 L591.72,217.85 L594.93,217.81 L598.15,217.77 L601.37,217.73 L604.58,217.69 L607.80,217.65 L611.02,217.62 L614.23,217.58 L617.45,217.54 L620.67,217.50 L623.88,217.46 L627.10,217.42 L630.32,217.38 L633.53,217.35 L636.75,217.31 L639.96,217.27 L643.18,217.24 L646.40,217.20 L649.61,217.16 L652.83,217.13 L656.04,217.09 L659.26,217.06 L662.48,217.02 L665.69,216.99 L668.91,216.95 L672.13,216.92 L675.34,216.89 L678.56,216.86 L681.77,216.83 L684.99,216.80 L688.21,216.77 L691.42,216.74 L694.64,216.71 L697.85,216.68 L701.07,216.65 L704.29,216.63 L707.50,216.60 L710.72,216.58 L713.93,216.55 L717.15,216.53 L720.37,216.51 L723.58,216.49 L726.80,216.47 L730.02,216.45 L733.23,216.43 L736.45,216.42 L739.67,216.40 L742.88,216.39 L746.10,216.37 L749.32,216.36 L752.54,216.35 L755.75,216.34 L758.97,216.33 L762.19,216.32 L765.41,216.32 L768.62,216.31 L771.84,216.31 L775.06,216.31 L778.28,216.30 L781.49,216.30 L784.71,216.31 L787.93,216.31 L791.15,216.31 L794.37,216.32 L797.59,216.33 L800.81,216.34 L804.02,216.35 L807.24,216.36 L810.46,216.38 L813.68,216.39 L816.90,216.41 L820.12,216.43 L823.34,216.45 L826.56,216.47 L829.78,216.50 L833.00,216.52" fill="none" stroke="rgb(163,211,152)" stroke-width="1.3" stroke-dasharray="3.6 3.2"/>
<path d="M227.30,628.30 L227.59,625.38 L227.90,622.46 L228.22,619.55 L228.56,616.64 L228.91,613.73 L229.27,610.82 L229.65,607.92 L230.03,605.02 L230.44,602.12 L230.85,599.23 L231.28,596.34 L231.71,593.45 L232.16,590.56 L232.62,587.67 L233.09,584.79 L233.57,581.91 L234.06,579.03 L234.56,576.15 L235.06,573.28 L235.58,570.40 L236.10,567.53 L236.64,564.66 L237.18,561.79 L237.72,558.92 L238.28,556.06 L238.84,553.19 L239.41,550.33 L239.98,547.46 L240.56,544.60 L241.14,541.74 L241.73,538.88 L242.32,536.02 L242.92,533.16 L243.52,530.30 L244.13,527.44 L244.74,524.58 L245.35,521.72 L245.96,518.86 L246.58,516.01 L247.20,513.15 L247.82,510.29 L248.44,507.43 L249.06,504.57 L249.68,501.71 L250.30,498.85 L250.92,495.99 L251.54,493.13 L252.17,490.27 L252.79,487.41 L253.42,484.55 L254.06,481.69 L254.69,478.83 L255.33,475.97 L255.98,473.12 L256.63,470.26 L257.29,467.41 L257.96,464.56 L258.63,461.71 L259.31,458.86 L260.01,456.02 L260.71,453.17 L261.42,450.33 L262.14,447.50 L262.88,444.67 L263.63,441.84 L264.39,439.01 L265.16,436.19 L265.95,433.37 L266.75,430.56 L267.57,427.75 L268.41,424.95 L269.26,422.15 L270.13,419.35 L271.02,416.56 L271.92,413.78 L272.84,411.00 L273.78,408.23 L274.73,405.46 L275.69,402.70 L276.66,399.95 L277.63,397.20 L278.62,394.46 L279.62,391.72 L280.62,388.99 L281.62,386.26 L282.63,383.55 L283.64,380.83 L284.65,378.13 L285.67,375.43 L286.69,372.73 L287.72,370.04 L288.77,367.36 L289.83,364.67 L290.92,361.99 L292.04,359.31 L293.18,356.63 L294.35,353.96 L295.55,351.29 L296.77,348.63 L298.02,345.97 L299.30,343.32 L300.60,340.69 L301.94,338.06 L303.30,335.44 L304.69,332.84 L306.11,330.25 L307.55,327.68 L309.03,325.12 L310.54,322.58 L312.07,320.06 L313.64,317.56 L315.23,315.08 L316.86,312.62 L318.52,310.19 L320.20,307.78 L321.92,305.39 L323.67,303.03 L325.45,300.70 L327.27,298.39 L329.11,296.12 L330.99,293.87 L332.90,291.66 L334.84,289.48 L336.81,287.34 L338.82,285.23 L340.86,283.16 L342.94,281.12 L345.05,279.13 L347.19,277.17 L349.37,275.25 L351.58,273.38 L353.82,271.55 L356.10,269.76 L358.42,268.02 L360.77,266.32 L363.15,264.67 L365.57,263.06 L368.01,261.50 L370.49,259.98 L372.99,258.50 L375.53,257.06 L378.09,255.67 L380.67,254.31 L383.28,253.00 L385.91,251.73 L388.57,250.50 L391.24,249.30 L393.94,248.15 L396.65,247.04 L399.39,245.96 L402.14,244.92 L404.91,243.92 L407.69,242.96 L410.48,242.03 L413.29,241.14 L416.11,240.28 L418.94,239.46 L421.79,238.68 L424.64,237.93 L427.49,237.21 L430.36,236.53 L433.23,235.88 L436.10,235.26 L438.98,234.67 L441.86,234.12 L444.74,233.60 L447.62,233.10 L450.51,232.64 L453.39,232.20 L456.28,231.79 L459.17,231.41 L462.06,231.05 L464.96,230.72 L467.85,230.40 L470.75,230.11 L473.64,229.84 L476.54,229.59 L479.45,229.36 L482.35,229.14 L485.25,228.94 L488.16,228.76 L491.06,228.59 L493.97,228.43 L496.88,228.29 L499.79,228.15 L502.70,228.03 L505.62,227.92 L508.53,227.81 L511.44,227.71 L514.36,227.62 L517.28,227.53 L520.20,227.44 L523.11,227.36 L526.03,227.28 L528.95,227.20 L531.88,227.13 L534.80,227.05 L537.72,226.98 L540.65,226.91 L543.57,226.85 L546.50,226.78 L549.42,226.72 L552.35,226.66 L555.27,226.59 L558.20,226.53 L561.13,226.48 L564.05,226.42 L566.98,226.36 L569.91,226.30 L572.84,226.25 L575.77,226.19 L578.69,226.14 L581.62,226.08 L584.55,226.03 L587.48,225.97 L590.40,225.92 L593.33,225.86 L596.26,225.80 L599.19,225.74 L602.11,225.69 L605.04,225.63 L607.96,225.57 L610.89,225.51 L613.81,225.44 L616.74,225.38 L619.66,225.32 L622.59,225.26 L625.51,225.19 L628.43,225.13 L631.36,225.07 L634.28,225.00 L637.20,224.94 L640.13,224.87 L643.05,224.81 L645.97,224.74 L648.89,224.68 L651.81,224.61 L654.73,224.55 L657.65,224.48 L660.58,224.42 L663.50,224.35 L666.42,224.29 L669.34,224.23 L672.26,224.16 L675.18,224.10 L678.10,224.04 L681.02,223.98 L683.94,223.92 L686.86,223.86 L689.78,223.80 L692.70,223.74 L695.62,223.68 L698.54,223.62 L701.46,223.57 L704.38,223.51 L707.30,223.46 L710.22,223.41 L713.13,223.36 L716.05,223.31 L718.97,223.26 L721.89,223.21 L724.81,223.17 L727.73,223.12 L730.65,223.08 L733.57,223.04 L736.49,223.00 L739.41,222.96 L742.34,222.93 L745.26,222.89 L748.18,222.86 L751.10,222.83 L754.02,222.80 L756.94,222.78 L759.86,222.75 L762.78,222.73 L765.71,222.71 L768.63,222.69 L771.55,222.68 L774.47,222.67 L777.40,222.66 L780.32,222.65 L783.24,222.64 L786.17,222.64 L789.09,222.64 L792.02,222.64 L794.94,222.65 L797.87,222.66 L800.79,222.67 L803.72,222.68 L806.64,222.70 L809.57,222.72 L812.50,222.74 L815.43,222.77 L818.35,222.80 L821.28,222.83 L824.21,222.87 L827.14,222.91 L830.07,222.95 L833.00,223.00" fill="none" stroke="rgb(163,211,152)" stroke-width="1.3" stroke-dasharray="3.6 3.2"/>
<path d="M200.06,628.34 L200.34,625.25 L200.64,622.16 L200.93,619.08 L201.24,616.00 L201.55,612.92 L201.87,609.84 L202.19,606.77 L202.52,603.70 L202.86,600.63 L203.20,597.57 L203.55,594.50 L203.90,591.44 L204.26,588.38 L204.62,585.33 L205.00,582.27 L205.37,579.22 L205.76,576.17 L206.14,573.12 L206.54,570.08 L206.94,567.03 L207.35,563.99 L207.76,560.95 L208.18,557.91 L208.60,554.88 L209.03,551.84 L209.47,548.81 L209.91,545.77 L210.35,542.74 L210.81,539.71 L211.26,536.69 L211.73,533.66 L212.20,530.63 L212.67,527.61 L213.15,524.59 L213.64,521.56 L214.13,518.54 L214.62,515.52 L215.13,512.50 L215.63,509.49 L216.15,506.47 L216.66,503.45 L217.19,500.43 L217.72,497.42 L218.25,494.40 L218.79,491.39 L219.33,488.37 L219.88,485.36 L220.44,482.35 L221.00,479.33 L221.56,476.32 L222.13,473.31 L222.71,470.29 L223.29,467.28 L223.87,464.27 L224.47,461.26 L225.06,458.24 L225.66,455.23 L226.27,452.22 L226.88,449.20 L227.49,446.19 L228.11,443.17 L228.74,440.16 L229.37,437.14 L230.00,434.13 L230.64,431.11 L231.29,428.09 L231.94,425.07 L232.59,422.06 L233.25,419.04 L233.91,416.01 L234.58,412.99 L235.26,409.97 L235.95,406.95 L236.64,403.94 L237.34,400.92 L238.06,397.91 L238.79,394.89 L239.53,391.89 L240.28,388.88 L241.05,385.88 L241.84,382.89 L242.64,379.90 L243.46,376.92 L244.30,373.94 L245.16,370.97 L246.04,368.01 L246.94,365.06 L247.87,362.12 L248.82,359.18 L249.80,356.25 L250.80,353.34 L251.83,350.43 L252.88,347.54 L253.97,344.66 L255.08,341.79 L256.23,338.93 L257.41,336.09 L258.62,333.26 L259.87,330.45 L261.15,327.65 L262.46,324.86 L263.82,322.09 L265.21,319.34 L266.64,316.61 L268.11,313.89 L269.62,311.19 L271.17,308.52 L272.77,305.87 L274.40,303.24 L276.07,300.65 L277.78,298.08 L279.54,295.54 L281.34,293.04 L283.18,290.57 L285.06,288.14 L286.99,285.74 L288.96,283.39 L290.97,281.08 L293.03,278.81 L295.13,276.59 L297.27,274.41 L299.46,272.29 L301.69,270.22 L303.97,268.20 L306.30,266.23 L308.67,264.32 L311.08,262.46 L313.53,260.66 L316.02,258.92 L318.55,257.23 L321.12,255.60 L323.72,254.03 L326.36,252.51 L329.03,251.05 L331.73,249.64 L334.46,248.30 L337.22,247.01 L340.01,245.78 L342.82,244.60 L345.66,243.47 L348.52,242.40 L351.41,241.37 L354.32,240.39 L357.24,239.46 L360.19,238.58 L363.15,237.73 L366.13,236.93 L369.13,236.17 L372.14,235.45 L375.16,234.77 L378.20,234.12 L381.24,233.50 L384.30,232.92 L387.36,232.37 L390.43,231.85 L393.51,231.36 L396.59,230.89 L399.68,230.45 L402.77,230.03 L405.86,229.64 L408.95,229.26 L412.04,228.90 L415.12,228.56 L418.21,228.24 L421.29,227.93 L424.36,227.64 L427.44,227.37 L430.52,227.10 L433.59,226.85 L436.66,226.61 L439.73,226.39 L442.79,226.17 L445.86,225.97 L448.92,225.77 L451.99,225.59 L455.05,225.41 L458.11,225.24 L461.17,225.08 L464.24,224.92 L467.30,224.77 L470.36,224.63 L473.42,224.49 L476.48,224.35 L479.54,224.22 L482.60,224.09 L485.66,223.96 L488.73,223.84 L491.79,223.71 L494.85,223.59 L497.92,223.47 L500.98,223.36 L504.05,223.25 L507.11,223.14 L510.18,223.03 L513.24,222.92 L516.31,222.82 L519.38,222.72 L522.45,222.62 L525.51,222.52 L528.58,222.42 L531.65,222.33 L534.72,222.24 L537.79,222.15 L540.86,222.06 L543.93,221.98 L547.00,221.90 L550.07,221.82 L553.14,221.74 L556.22,221.66 L559.29,221.58 L562.36,221.51 L565.43,221.44 L568.51,221.37 L571.58,221.30 L574.65,221.24 L577.73,221.17 L580.80,221.11 L583.87,221.05 L586.95,220.99 L590.02,220.93 L593.10,220.88 L596.17,220.82 L599.25,220.77 L602.32,220.72 L605.40,220.67 L608.48,220.62 L611.55,220.58 L614.63,220.53 L617.71,220.49 L620.78,220.45 L623.86,220.41 L626.94,220.37 L630.01,220.33 L633.09,220.29 L636.17,220.26 L639.25,220.22 L642.32,220.19 L645.40,220.16 L648.48,220.13 L651.56,220.10 L654.63,220.07 L657.71,220.04 L660.79,220.01 L663.87,219.99 L666.95,219.97 L670.02,219.94 L673.10,219.92 L676.18,219.90 L679.26,219.88 L682.34,219.86 L685.42,219.84 L688.49,219.82 L691.57,219.81 L694.65,219.79 L697.73,219.78 L700.81,219.76 L703.88,219.75 L706.96,219.74 L710.04,219.73 L713.12,219.71 L716.19,219.70 L719.27,219.69 L722.35,219.68 L725.43,219.67 L728.50,219.67 L731.58,219.66 L734.66,219.65 L737.73,219.64 L740.81,219.64 L743.89,219.63 L746.96,219.63 L750.04,219.62 L753.12,219.62 L756.19,219.61 L759.27,219.61 L762.34,219.60 L765.42,219.60 L768.49,219.59 L771.57,219.59 L774.64,219.59 L777.72,219.58 L780.79,219.58 L783.86,219.58 L786.94,219.58 L790.01,219.57 L793.08,219.57 L796.15,219.57 L799.23,219.57 L802.30,219.56 L805.37,219.56 L808.44,219.56 L811.51,219.55 L814.58,219.55 L817.65,219.55 L820.72,219.54 L823.79,219.54 L826.86,219.54 L829.93,219.53 L833.00,219.53" fill="none" stroke="rgb(96,176,76)" stroke-width="2.6"/>
</g>
<g clip-path="url(#c2)">
<rect x="851" y="214.73" width="287.5" height="6.76" fill="rgb(248,234,223)"/>
<path d="M850.50,217.18 L853.38,217.12 L856.26,217.10 L859.14,217.12 L862.02,217.18 L864.89,217.28 L867.77,217.39 L870.65,217.51 L873.53,217.61 L876.41,217.70 L879.29,217.76 L882.17,217.78 L885.05,217.76 L887.93,217.69 L890.81,217.60 L893.68,217.49 L896.56,217.37 L899.44,217.26 L902.32,217.17 L905.20,217.12 L908.08,217.10 L910.96,217.13 L913.84,217.19 L916.72,217.28 L919.60,217.39 L922.48,217.51 L925.35,217.62 L928.23,217.71 L931.11,217.76 L933.99,217.78 L936.87,217.75 L939.75,217.69 L942.63,217.60 L945.51,217.48 L948.39,217.37 L951.26,217.26 L954.14,217.17 L957.02,217.12 L959.90,217.10 L962.78,217.13 L965.66,217.19 L968.54,217.29 L971.42,217.40 L974.30,217.52 L977.18,217.62 L980.06,217.71 L982.93,217.76 L985.81,217.78 L988.69,217.75 L991.57,217.69 L994.45,217.59 L997.33,217.48 L1000.21,217.36 L1003.09,217.25 L1005.97,217.17 L1008.85,217.12 L1011.72,217.10 L1014.60,217.13 L1017.48,217.20 L1020.36,217.29 L1023.24,217.40 L1026.12,217.52 L1029.00,217.63 L1031.88,217.71 L1034.76,217.77 L1037.63,217.78 L1040.51,217.75 L1043.39,217.68 L1046.27,217.59 L1049.15,217.47 L1052.03,217.36 L1054.91,217.25 L1057.79,217.16 L1060.67,217.11 L1063.55,217.10 L1066.42,217.13 L1069.30,217.20 L1072.18,217.30 L1075.06,217.41 L1077.94,217.53 L1080.82,217.63 L1083.70,217.72 L1086.58,217.77 L1089.46,217.78 L1092.34,217.75 L1095.21,217.68 L1098.09,217.58 L1100.97,217.47 L1103.85,217.35 L1106.73,217.24 L1109.61,217.16 L1112.49,217.11 L1115.37,217.10 L1118.25,217.14 L1121.13,217.20 L1124.01,217.30 L1126.88,217.42 L1129.76,217.53 L1132.64,217.64 L1135.52,217.72 L1138.40,217.77" fill="none" stroke="rgb(220,135,50)" stroke-width="2.4"/>
<rect x="851" y="216.09" width="287.5" height="5.07" fill="rgba(193,221,185,0.47)"/>
<line x1="851" y1="214.73" x2="1138.5" y2="214.73" stroke="rgb(238,200,165)" stroke-width="1.3" stroke-dasharray="3.6 3.2"/>
<line x1="851" y1="221.50" x2="1138.5" y2="221.50" stroke="rgb(238,200,165)" stroke-width="1.3" stroke-dasharray="3.6 3.2"/>
<line x1="851" y1="216.09" x2="1138.5" y2="216.09" stroke="rgb(163,211,152)" stroke-width="1.3" stroke-dasharray="3.6 3.2"/>
<line x1="851" y1="221.16" x2="1138.5" y2="221.16" stroke="rgb(163,211,152)" stroke-width="1.3" stroke-dasharray="3.6 3.2"/>
<path d="M850.50,218.77 L853.38,218.78 L856.26,218.66 L859.14,218.45 L862.02,218.25 L864.89,218.13 L867.77,218.14 L870.65,218.28 L873.53,218.49 L876.41,218.69 L879.29,218.79 L882.17,218.75 L885.05,218.60 L887.93,218.38 L890.81,218.20 L893.68,218.12 L896.56,218.18 L899.44,218.35 L902.32,218.56 L905.20,218.74 L908.08,218.79 L910.96,218.71 L913.84,218.53 L916.72,218.31 L919.60,218.16 L922.48,218.12 L925.35,218.22 L928.23,218.42 L931.11,218.63 L933.99,218.77 L936.87,218.78 L939.75,218.66 L942.63,218.45 L945.51,218.25 L948.39,218.13 L951.26,218.14 L954.14,218.28 L957.02,218.49 L959.90,218.69 L962.78,218.79 L965.66,218.75 L968.54,218.60 L971.42,218.38 L974.30,218.20 L977.18,218.12 L980.06,218.18 L982.93,218.35 L985.81,218.56 L988.69,218.74 L991.57,218.79 L994.45,218.71 L997.33,218.53 L1000.21,218.31 L1003.09,218.16 L1005.97,218.12 L1008.85,218.22 L1011.72,218.42 L1014.60,218.63 L1017.48,218.77 L1020.36,218.78 L1023.24,218.66 L1026.12,218.45 L1029.00,218.25 L1031.88,218.13 L1034.76,218.14 L1037.63,218.28 L1040.51,218.49 L1043.39,218.69 L1046.27,218.79 L1049.15,218.75 L1052.03,218.60 L1054.91,218.38 L1057.79,218.20 L1060.67,218.12 L1063.55,218.18 L1066.42,218.35 L1069.30,218.56 L1072.18,218.74 L1075.06,218.79 L1077.94,218.71 L1080.82,218.53 L1083.70,218.31 L1086.58,218.16 L1089.46,218.12 L1092.34,218.22 L1095.21,218.42 L1098.09,218.63 L1100.97,218.77 L1103.85,218.78 L1106.73,218.66 L1109.61,218.45 L1112.49,218.25 L1115.37,218.13 L1118.25,218.14 L1121.13,218.28 L1124.01,218.49 L1126.88,218.69 L1129.76,218.79 L1132.64,218.75 L1135.52,218.60 L1138.40,218.38" fill="none" stroke="rgb(96,176,76)" stroke-width="2.6"/>
</g>
<line x1="151.35" y1="189.10" x2="833.6" y2="189.10" stroke="rgb(150,150,150)" stroke-width="2" stroke-dasharray="6.9 6.75"/>
<line x1="850.8" y1="189.10" x2="1138.5" y2="189.10" stroke="rgb(150,150,150)" stroke-width="2" stroke-dasharray="6.9 6.78"/>
<line x1="151.35" y1="256.73" x2="833.6" y2="256.73" stroke="rgb(150,150,150)" stroke-width="2" stroke-dasharray="6.9 6.75"/>
<line x1="850.8" y1="256.73" x2="1138.5" y2="256.73" stroke="rgb(150,150,150)" stroke-width="2" stroke-dasharray="6.9 6.78"/>
<line x1="151.5" y1="222.71" x2="159.7" y2="222.71" stroke="rgb(145,145,145)" stroke-width="1.7"/>
<line x1="284.7" y1="222.71" x2="833.6" y2="222.71" stroke="rgb(145,145,145)" stroke-width="1.7"/>
<line x1="851" y1="222.71" x2="1138.5" y2="222.71" stroke="rgb(145,145,145)" stroke-width="1.7"/>
<rect x="879.2" y="209" width="229.8" height="27.4" fill="rgba(180,180,180,0.22)" stroke="#000" stroke-width="2.6"/>
<line x1="879.2" y1="236.4" x2="761.4" y2="288.7" stroke="#000" stroke-width="2.6"/>
<line x1="1109.8" y1="236.4" x2="1107.6" y2="288.7" stroke="#000" stroke-width="2.6"/>
<rect x="761.4" y="288.7" width="346.19999999999993" height="255.90000000000003" fill="#fff"/>
<line x1="761.4" y1="493.42" x2="1107.6" y2="493.42" stroke="rgb(200,200,200)" stroke-width="1.3"/>
<g clip-path="url(#ci)">
<path d="M761.84,376.13 L774.57,376.13 L778.40,385.34 L782.24,376.13 L817.52,376.13 L821.35,385.34 L825.95,376.13 L830.55,385.34 L835.15,385.34 L838.99,376.13 L850.03,376.13 L845.00,376.13 L860.34,376.13 L864.17,385.34 L878.74,385.34 L882.58,376.13 L895.61,376.13 L899.45,385.34 L903.28,376.13 L907.88,376.13 L912.48,385.34 L935.03,385.34 L935.37,386.10 L940.74,376.13 L945.34,386.10 L951.47,376.13 L959.14,395.31 L962.98,395.31 L969.11,386.10 L972.94,395.31 L980.61,386.10 L1014.36,386.10 L1018.19,395.31 L1025.67,395.31 L1028.74,386.10 L1042.54,386.10 L1047.14,376.13 L1050.98,386.10 L1064.01,386.10 L1067.08,395.31 L1074.75,395.31 L1080.88,386.10 L1083.95,395.31 L1087.02,386.10 L1093.92,376.13 L1099.29,386.10 L1108.49,386.10 L1108.49,467.39 L1103.28,467.39 L1100.98,461.56 L1098.06,457.42 L1090.55,457.42 L1087.48,462.94 L1083.80,467.39 L1069.53,467.39 L1056.04,467.39 L1054.50,463.71 L1051.44,457.42 L1047.75,457.42 L1045.45,460.03 L1042.54,467.39 L1025.98,467.39 L1023.67,469.69 L1019.99,476.44 L1030.00,467.39 L1025.55,467.39 L1024.02,470.46 L1020.34,476.44 L1017.27,470.46 L1014.97,467.39 L973.71,467.39 L972.18,468.93 L968.50,477.36 L964.05,475.06 L960.21,467.39 L945.95,467.39 L943.80,460.03 L939.97,457.42 L939.33,457.42 L937.02,460.03 L932.42,467.39 L925.06,467.39 L906.96,467.39 L906.35,462.02 L902.52,457.42 L898.68,465.25 L895.00,457.42 L886.10,457.42 L883.04,467.39 L860.49,467.39 L857.58,460.80 L854.51,457.42 L850.06,457.42 L850.03,457.42 L837.76,457.42 L833.93,467.39 L813.07,467.39 L809.23,457.42 L794.97,457.42 L791.60,467.39 L781.47,467.39 L777.33,475.67 L773.19,467.39 L761.99,467.39 Z" fill="rgb(248,234,223)"/>
<path d="M761.84,376.13 L774.57,376.13 L778.40,385.34 L782.24,376.13 L817.52,376.13 L821.35,385.34 L825.95,376.13 L830.55,385.34 L835.15,385.34 L838.99,376.13 L850.03,376.13 L845.00,376.13 L860.34,376.13 L864.17,385.34 L878.74,385.34 L882.58,376.13 L895.61,376.13 L899.45,385.34 L903.28,376.13 L907.88,376.13 L912.48,385.34 L935.03,385.34 L935.37,386.10 L940.74,376.13 L945.34,386.10 L951.47,376.13 L959.14,395.31 L962.98,395.31 L969.11,386.10 L972.94,395.31 L980.61,386.10 L1014.36,386.10 L1018.19,395.31 L1025.67,395.31 L1028.74,386.10 L1042.54,386.10 L1047.14,376.13 L1050.98,386.10 L1064.01,386.10 L1067.08,395.31 L1074.75,395.31 L1080.88,386.10 L1083.95,395.31 L1087.02,386.10 L1093.92,376.13 L1099.29,386.10 L1108.49,386.10" fill="none" stroke="rgb(238,200,165)" stroke-width="1.3" stroke-dasharray="3.6 3.2"/>
<path d="M761.99,467.39 L773.19,467.39 L777.33,475.67 L781.47,467.39 L791.60,467.39 L794.97,457.42 L809.23,457.42 L813.07,467.39 L833.93,467.39 L837.76,457.42 L850.03,457.42 L850.06,457.42 L854.51,457.42 L857.58,460.80 L860.49,467.39 L883.04,467.39 L886.10,457.42 L895.00,457.42 L898.68,465.25 L902.52,457.42 L906.35,462.02 L906.96,467.39 L925.06,467.39 L932.42,467.39 L937.02,460.03 L939.33,457.42 L939.97,457.42 L943.80,460.03 L945.95,467.39 L960.21,467.39 L964.05,475.06 L968.50,477.36 L972.18,468.93 L973.71,467.39 L1014.97,467.39 L1017.27,470.46 L1020.34,476.44 L1024.02,470.46 L1025.55,467.39 L1030.00,467.39 L1019.99,476.44 L1023.67,469.69 L1025.98,467.39 L1042.54,467.39 L1045.45,460.03 L1047.75,457.42 L1051.44,457.42 L1054.50,463.71 L1056.04,467.39 L1069.53,467.39 L1083.80,467.39 L1087.48,462.94 L1090.55,457.42 L1098.06,457.42 L1100.98,461.56 L1103.28,467.39 L1108.49,467.39" fill="none" stroke="rgb(238,200,165)" stroke-width="1.3" stroke-dasharray="3.6 3.2"/>
<path d="M761.84,411.41 L769.20,413.71 L778.40,421.38 L787.61,418.31 L799.88,409.11 L806.01,410.18 L810.61,412.18 L821.35,420.61 L829.02,419.85 L834.39,420.61 L841.29,412.94 L850.03,411.41 L851.13,412.64 L856.50,410.18 L866.47,418.31 L870.31,418.77 L878.74,421.84 L882.58,420.92 L887.18,414.48 L891.01,413.40 L897.15,414.79 L903.28,412.94 L909.42,417.24 L917.09,421.84 L925.52,423.99 L930.89,419.85 L935.03,418.77 L934.60,418.77 L943.04,413.25 L948.40,415.25 L951.47,415.71 L956.84,420.61 L964.51,427.52 L972.94,424.45 L978.31,425.98 L986.75,417.24 L994.42,417.55 L999.02,415.71 L1005.15,420.61 L1012.82,424.45 L1020.03,425.52 L1022.60,428.28 L1026.44,425.21 L1030.27,421.38 L1037.94,419.08 L1046.37,414.17 L1054.81,416.78 L1064.01,424.45 L1073.21,426.75 L1080.88,424.45 L1087.02,419.08 L1094.69,415.71 L1099.29,416.01 L1108.49,419.85" fill="none" stroke="rgb(220,135,50)" stroke-width="2.6" stroke-linejoin="round"/>
<path d="M761.84,396.38 L850.03,396.38 L852.67,396.38 L855.74,405.28 L859.57,396.38 L926.29,396.38 L930.12,406.04 L930.00,406.04 L938.44,406.04 L942.27,396.38 L962.21,396.38 L966.04,406.04 L969.11,396.38 L973.71,406.04 L977.55,396.38 L985.98,386.87 L989.82,396.38 L1000.55,396.38 L1003.62,406.04 L1006.69,396.38 L1020.03,396.38 L1038.71,396.38 L1042.54,404.51 L1046.37,396.38 L1073.98,396.38 L1077.05,405.28 L1080.12,396.38 L1108.49,396.38 L1108.49,460.03 L1102.51,457.42 L1098.67,457.42 L1097.29,460.03 L1093.46,469.69 L1090.55,477.36 L1089.01,475.06 L1085.94,468.93 L1083.80,471.23 L1079.96,477.36 L1077.05,475.06 L1074.75,467.39 L1072.45,463.71 L1069.53,457.42 L1055.27,457.42 L1051.44,463.71 L1046.99,467.39 L1043.92,473.53 L1039.47,477.36 L1037.17,475.06 L1034.26,467.39 L1031.19,467.39 L1029.04,465.25 L1024.44,457.42 L1019.99,457.42 L1030.00,463.71 L1026.17,457.42 L1016.50,457.42 L1014.97,463.71 L1014.20,468.31 L1012.06,477.36 L1008.99,467.39 L999.94,467.39 L998.56,465.25 L994.72,457.42 L982.76,457.42 L980.46,460.03 L977.55,467.39 L960.21,467.39 L956.53,457.42 L945.95,457.42 L944.42,462.18 L939.97,475.06 L940.09,473.53 L937.79,477.36 L930.28,477.36 L927.21,467.39 L925.06,463.71 L921.23,457.42 L917.55,465.25 L913.71,457.42 L907.73,457.42 L905.58,470.46 L902.52,477.36 L895.00,477.36 L889.02,460.03 L886.72,457.42 L881.50,464.48 L876.29,457.42 L872.45,457.42 L868.77,465.25 L864.94,457.42 L861.26,464.48 L856.81,467.39 L854.51,472.76 L850.06,477.36 L850.03,477.36 L840.67,477.36 L836.99,473.53 L833.93,467.39 L827.18,467.39 L825.03,463.87 L821.20,457.42 L816.75,465.25 L812.91,457.42 L810.00,462.33 L804.02,467.39 L800.18,467.39 L794.97,477.36 L769.51,477.36 L764.29,468.31 L761.99,467.39 Z" fill="rgba(193,221,185,0.47)"/>
<path d="M761.84,396.38 L850.03,396.38 L852.67,396.38 L855.74,405.28 L859.57,396.38 L926.29,396.38 L930.12,406.04 L930.00,406.04 L938.44,406.04 L942.27,396.38 L962.21,396.38 L966.04,406.04 L969.11,396.38 L973.71,406.04 L977.55,396.38 L985.98,386.87 L989.82,396.38 L1000.55,396.38 L1003.62,406.04 L1006.69,396.38 L1020.03,396.38 L1038.71,396.38 L1042.54,404.51 L1046.37,396.38 L1073.98,396.38 L1077.05,405.28 L1080.12,396.38 L1108.49,396.38" fill="none" stroke="rgb(163,211,152)" stroke-width="1.3" stroke-dasharray="3.6 3.2"/>
<path d="M761.99,467.39 L764.29,468.31 L769.51,477.36 L794.97,477.36 L800.18,467.39 L804.02,467.39 L810.00,462.33 L812.91,457.42 L816.75,465.25 L821.20,457.42 L825.03,463.87 L827.18,467.39 L833.93,467.39 L836.99,473.53 L840.67,477.36 L850.03,477.36 L850.06,477.36 L854.51,472.76 L856.81,467.39 L861.26,464.48 L864.94,457.42 L868.77,465.25 L872.45,457.42 L876.29,457.42 L881.50,464.48 L886.72,457.42 L889.02,460.03 L895.00,477.36 L902.52,477.36 L905.58,470.46 L907.73,457.42 L913.71,457.42 L917.55,465.25 L921.23,457.42 L925.06,463.71 L927.21,467.39 L930.28,477.36 L937.79,477.36 L940.09,473.53 L939.97,475.06 L944.42,462.18 L945.95,457.42 L956.53,457.42 L960.21,467.39 L977.55,467.39 L980.46,460.03 L982.76,457.42 L994.72,457.42 L998.56,465.25 L999.94,467.39 L1008.99,467.39 L1012.06,477.36 L1014.20,468.31 L1014.97,463.71 L1016.50,457.42 L1026.17,457.42 L1030.00,463.71 L1019.99,457.42 L1024.44,457.42 L1029.04,465.25 L1031.19,467.39 L1034.26,467.39 L1037.17,475.06 L1039.47,477.36 L1043.92,473.53 L1046.99,467.39 L1051.44,463.71 L1055.27,457.42 L1069.53,457.42 L1072.45,463.71 L1074.75,467.39 L1077.05,475.06 L1079.96,477.36 L1083.80,471.23 L1085.94,468.93 L1089.01,475.06 L1090.55,477.36 L1093.46,469.69 L1097.29,460.03 L1098.67,457.42 L1102.51,457.42 L1108.49,460.03" fill="none" stroke="rgb(163,211,152)" stroke-width="1.3" stroke-dasharray="3.6 3.2"/>
<path d="M761.84,429.05 L765.37,426.44 L772.27,431.35 L776.87,430.58 L782.24,427.98 L786.84,432.12 L791.44,431.66 L796.04,432.12 L804.48,427.98 L809.08,429.51 L812.91,428.28 L816.75,431.35 L822.12,426.44 L829.79,429.51 L834.39,425.98 L838.99,430.12 L843.59,430.12 L850.03,432.88 L852.67,433.19 L860.34,431.35 L864.94,427.06 L869.54,428.28 L874.14,427.52 L877.98,425.98 L882.58,431.35 L891.01,428.28 L895.61,433.19 L899.45,431.66 L904.05,432.58 L908.65,425.21 L912.48,423.37 L917.09,430.58 L921.69,429.05 L925.52,429.82 L930.12,437.18 L935.03,434.42 L935.37,435.18 L939.20,435.18 L946.87,422.91 L951.47,425.21 L956.07,423.68 L964.51,433.65 L969.11,432.12 L973.71,434.42 L986.75,422.15 L994.42,426.75 L1003.62,434.42 L1008.22,432.12 L1012.82,434.42 L1020.03,424.45 L1021.07,424.45 L1025.67,427.52 L1033.34,425.98 L1038.71,434.11 L1046.37,430.12 L1050.98,432.12 L1060.18,422.15 L1068.61,425.98 L1077.05,435.18 L1085.48,432.12 L1090.09,434.42 L1099.29,423.99 L1108.49,427.98" fill="none" stroke="rgb(96,176,76)" stroke-width="2.8" stroke-linejoin="round"/>
</g>
<line x1="804.67" y1="288.7" x2="804.67" y2="544.6" stroke="rgb(160,160,160)" stroke-width="1.25"/>
<line x1="1064.32" y1="288.7" x2="1064.32" y2="544.6" stroke="rgb(160,160,160)" stroke-width="1.25"/>
<path d="M761.4,288.7 L1107.6,288.7 L1107.6,544.6 L761.4,544.6 Z" fill="none" stroke="#000" stroke-width="2.6"/>
<line x1="748.40" y1="288.70" x2="761.4" y2="288.70" stroke="#000" stroke-width="2.4"/>
<line x1="754.90" y1="301.50" x2="761.4" y2="301.50" stroke="#000" stroke-width="2.4"/>
<line x1="754.90" y1="314.29" x2="761.4" y2="314.29" stroke="#000" stroke-width="2.4"/>
<line x1="754.90" y1="327.08" x2="761.4" y2="327.08" stroke="#000" stroke-width="2.4"/>
<line x1="748.40" y1="339.88" x2="761.4" y2="339.88" stroke="#000" stroke-width="2.4"/>
<line x1="754.90" y1="352.68" x2="761.4" y2="352.68" stroke="#000" stroke-width="2.4"/>
<line x1="754.90" y1="365.47" x2="761.4" y2="365.47" stroke="#000" stroke-width="2.4"/>
<line x1="754.90" y1="378.26" x2="761.4" y2="378.26" stroke="#000" stroke-width="2.4"/>
<line x1="748.40" y1="391.06" x2="761.4" y2="391.06" stroke="#000" stroke-width="2.4"/>
<line x1="754.90" y1="403.86" x2="761.4" y2="403.86" stroke="#000" stroke-width="2.4"/>
<line x1="754.90" y1="416.65" x2="761.4" y2="416.65" stroke="#000" stroke-width="2.4"/>
<line x1="754.90" y1="429.45" x2="761.4" y2="429.45" stroke="#000" stroke-width="2.4"/>
<line x1="748.40" y1="442.24" x2="761.4" y2="442.24" stroke="#000" stroke-width="2.4"/>
<line x1="754.90" y1="455.03" x2="761.4" y2="455.03" stroke="#000" stroke-width="2.4"/>
<line x1="754.90" y1="467.83" x2="761.4" y2="467.83" stroke="#000" stroke-width="2.4"/>
<line x1="754.90" y1="480.62" x2="761.4" y2="480.62" stroke="#000" stroke-width="2.4"/>
<line x1="748.40" y1="493.42" x2="761.4" y2="493.42" stroke="#000" stroke-width="2.4"/>
<line x1="754.90" y1="506.22" x2="761.4" y2="506.22" stroke="#000" stroke-width="2.4"/>
<line x1="754.90" y1="519.01" x2="761.4" y2="519.01" stroke="#000" stroke-width="2.4"/>
<line x1="754.90" y1="531.81" x2="761.4" y2="531.81" stroke="#000" stroke-width="2.4"/>
<line x1="748.40" y1="544.60" x2="761.4" y2="544.60" stroke="#000" stroke-width="2.4"/>
<line x1="761.40" y1="544.6" x2="761.40" y2="550.6" stroke="#000" stroke-width="2.4"/>
<line x1="804.67" y1="544.6" x2="804.67" y2="556.6" stroke="#000" stroke-width="2.4"/>
<line x1="847.95" y1="544.6" x2="847.95" y2="550.6" stroke="#000" stroke-width="2.4"/>
<line x1="891.22" y1="544.6" x2="891.22" y2="556.6" stroke="#000" stroke-width="2.4"/>
<line x1="934.50" y1="544.6" x2="934.50" y2="550.6" stroke="#000" stroke-width="2.4"/>
<line x1="977.77" y1="544.6" x2="977.77" y2="556.6" stroke="#000" stroke-width="2.4"/>
<line x1="1021.05" y1="544.6" x2="1021.05" y2="550.6" stroke="#000" stroke-width="2.4"/>
<line x1="1064.32" y1="544.6" x2="1064.32" y2="556.6" stroke="#000" stroke-width="2.4"/>
<line x1="1107.60" y1="544.6" x2="1107.60" y2="550.6" stroke="#000" stroke-width="2.4"/>
<path d="M151.5,628.3 L151.5,87.25 L1138.5,87.25 L1138.5,628.3" fill="none" stroke="#000" stroke-width="2.7"/>
<line x1="151.5" y1="628.3" x2="834" y2="628.3" stroke="#000" stroke-width="2.7"/>
<line x1="850.5" y1="628.3" x2="1138.5" y2="628.3" stroke="#000" stroke-width="2.7"/>
<line x1="825.5" y1="640.6" x2="841.8" y2="616.1" stroke="#000" stroke-width="2.7"/>
<line x1="842.7" y1="640.6" x2="859" y2="616.1" stroke="#000" stroke-width="2.7"/>
<line x1="138.80" y1="87.25" x2="151.5" y2="87.25" stroke="#000" stroke-width="2.6"/>
<line x1="145.00" y1="121.07" x2="151.5" y2="121.07" stroke="#000" stroke-width="2.6"/>
<line x1="138.80" y1="154.88" x2="151.5" y2="154.88" stroke="#000" stroke-width="2.6"/>
<line x1="145.00" y1="188.70" x2="151.5" y2="188.70" stroke="#000" stroke-width="2.6"/>
<line x1="138.80" y1="222.51" x2="151.5" y2="222.51" stroke="#000" stroke-width="2.6"/>
<line x1="145.00" y1="256.33" x2="151.5" y2="256.33" stroke="#000" stroke-width="2.6"/>
<line x1="138.80" y1="290.14" x2="151.5" y2="290.14" stroke="#000" stroke-width="2.6"/>
<line x1="145.00" y1="323.96" x2="151.5" y2="323.96" stroke="#000" stroke-width="2.6"/>
<line x1="138.80" y1="357.77" x2="151.5" y2="357.77" stroke="#000" stroke-width="2.6"/>
<line x1="145.00" y1="391.59" x2="151.5" y2="391.59" stroke="#000" stroke-width="2.6"/>
<line x1="138.80" y1="425.41" x2="151.5" y2="425.41" stroke="#000" stroke-width="2.6"/>
<line x1="145.00" y1="459.22" x2="151.5" y2="459.22" stroke="#000" stroke-width="2.6"/>
<line x1="138.80" y1="493.04" x2="151.5" y2="493.04" stroke="#000" stroke-width="2.6"/>
<line x1="145.00" y1="526.85" x2="151.5" y2="526.85" stroke="#000" stroke-width="2.6"/>
<line x1="138.80" y1="560.67" x2="151.5" y2="560.67" stroke="#000" stroke-width="2.6"/>
<line x1="145.00" y1="594.48" x2="151.5" y2="594.48" stroke="#000" stroke-width="2.6"/>
<line x1="138.80" y1="628.30" x2="151.5" y2="628.30" stroke="#000" stroke-width="2.6"/>
<line x1="151.50" y1="628.3" x2="151.50" y2="640.80" stroke="#000" stroke-width="2.6"/>
<line x1="208.31" y1="628.3" x2="208.31" y2="634.60" stroke="#000" stroke-width="2.6"/>
<line x1="265.13" y1="628.3" x2="265.13" y2="634.60" stroke="#000" stroke-width="2.6"/>
<line x1="321.94" y1="628.3" x2="321.94" y2="640.80" stroke="#000" stroke-width="2.6"/>
<line x1="378.76" y1="628.3" x2="378.76" y2="634.60" stroke="#000" stroke-width="2.6"/>
<line x1="435.57" y1="628.3" x2="435.57" y2="634.60" stroke="#000" stroke-width="2.6"/>
<line x1="492.39" y1="628.3" x2="492.39" y2="640.80" stroke="#000" stroke-width="2.6"/>
<line x1="549.20" y1="628.3" x2="549.20" y2="634.60" stroke="#000" stroke-width="2.6"/>
<line x1="606.02" y1="628.3" x2="606.02" y2="634.60" stroke="#000" stroke-width="2.6"/>
<line x1="662.84" y1="628.3" x2="662.84" y2="640.80" stroke="#000" stroke-width="2.6"/>
<line x1="719.65" y1="628.3" x2="719.65" y2="634.60" stroke="#000" stroke-width="2.6"/>
<line x1="776.46" y1="628.3" x2="776.46" y2="634.60" stroke="#000" stroke-width="2.6"/>
<line x1="879.29" y1="628.3" x2="879.29" y2="640.80" stroke="#000" stroke-width="2.6"/>
<line x1="908.08" y1="628.3" x2="908.08" y2="634.60" stroke="#000" stroke-width="2.6"/>
<line x1="936.87" y1="628.3" x2="936.87" y2="634.60" stroke="#000" stroke-width="2.6"/>
<line x1="965.66" y1="628.3" x2="965.66" y2="640.80" stroke="#000" stroke-width="2.6"/>
<line x1="994.45" y1="628.3" x2="994.45" y2="634.60" stroke="#000" stroke-width="2.6"/>
<line x1="1023.24" y1="628.3" x2="1023.24" y2="634.60" stroke="#000" stroke-width="2.6"/>
<line x1="1052.03" y1="628.3" x2="1052.03" y2="640.80" stroke="#000" stroke-width="2.6"/>
<line x1="1080.82" y1="628.3" x2="1080.82" y2="634.60" stroke="#000" stroke-width="2.6"/>
<line x1="1109.61" y1="628.3" x2="1109.61" y2="634.60" stroke="#000" stroke-width="2.6"/>
<line x1="1138.40" y1="628.3" x2="1138.40" y2="640.80" stroke="#000" stroke-width="2.6"/>
<text transform="translate(130.20,95.85) scale(0.933,1)" font-family="Liberation Sans, sans-serif" font-size="30.0" text-anchor="end" stroke="#000" stroke-width="0.3">220</text>
<text transform="translate(130.20,163.48) scale(0.933,1)" font-family="Liberation Sans, sans-serif" font-size="30.0" text-anchor="end" stroke="#000" stroke-width="0.3">210</text>
<text transform="translate(130.20,231.11) scale(0.933,1)" font-family="Liberation Sans, sans-serif" font-size="30.0" text-anchor="end" stroke="#000" stroke-width="0.3">200</text>
<text transform="translate(130.20,298.74) scale(0.933,1)" font-family="Liberation Sans, sans-serif" font-size="30.0" text-anchor="end" stroke="#000" stroke-width="0.3">190</text>
<text transform="translate(130.20,366.38) scale(0.933,1)" font-family="Liberation Sans, sans-serif" font-size="30.0" text-anchor="end" stroke="#000" stroke-width="0.3">180</text>
<text transform="translate(130.20,434.01) scale(0.933,1)" font-family="Liberation Sans, sans-serif" font-size="30.0" text-anchor="end" stroke="#000" stroke-width="0.3">170</text>
<text transform="translate(130.20,501.64) scale(0.933,1)" font-family="Liberation Sans, sans-serif" font-size="30.0" text-anchor="end" stroke="#000" stroke-width="0.3">160</text>
<text transform="translate(130.20,569.27) scale(0.933,1)" font-family="Liberation Sans, sans-serif" font-size="30.0" text-anchor="end" stroke="#000" stroke-width="0.3">150</text>
<text transform="translate(130.20,636.90) scale(0.933,1)" font-family="Liberation Sans, sans-serif" font-size="30.0" text-anchor="end" stroke="#000" stroke-width="0.3">140</text>
<text transform="translate(151.50,670.80) scale(0.933,1)" font-family="Liberation Sans, sans-serif" font-size="30.0" text-anchor="middle" stroke="#000" stroke-width="0.3">0</text>
<text transform="translate(321.94,670.80) scale(0.933,1)" font-family="Liberation Sans, sans-serif" font-size="30.0" text-anchor="middle" stroke="#000" stroke-width="0.3">15</text>
<text transform="translate(492.39,670.80) scale(0.933,1)" font-family="Liberation Sans, sans-serif" font-size="30.0" text-anchor="middle" stroke="#000" stroke-width="0.3">30</text>
<text transform="translate(662.84,670.80) scale(0.933,1)" font-family="Liberation Sans, sans-serif" font-size="30.0" text-anchor="middle" stroke="#000" stroke-width="0.3">45</text>
<text transform="translate(879.29,670.80) scale(0.933,1)" font-family="Liberation Sans, sans-serif" font-size="30.0" text-anchor="middle" stroke="#000" stroke-width="0.3">105</text>
<text transform="translate(965.66,670.80) scale(0.933,1)" font-family="Liberation Sans, sans-serif" font-size="30.0" text-anchor="middle" stroke="#000" stroke-width="0.3">120</text>
<text transform="translate(1052.03,670.80) scale(0.933,1)" font-family="Liberation Sans, sans-serif" font-size="30.0" text-anchor="middle" stroke="#000" stroke-width="0.3">135</text>
<text transform="translate(1138.40,670.80) scale(0.933,1)" font-family="Liberation Sans, sans-serif" font-size="30.0" text-anchor="middle" stroke="#000" stroke-width="0.3">150</text>
<text transform="translate(739.20,297.30) scale(0.933,1)" font-family="Liberation Sans, sans-serif" font-size="30.0" text-anchor="end" stroke="#000" stroke-width="0.3">202,0</text>
<text transform="translate(739.20,348.48) scale(0.933,1)" font-family="Liberation Sans, sans-serif" font-size="30.0" text-anchor="end" stroke="#000" stroke-width="0.3">201,5</text>
<text transform="translate(739.20,399.66) scale(0.933,1)" font-family="Liberation Sans, sans-serif" font-size="30.0" text-anchor="end" stroke="#000" stroke-width="0.3">201,0</text>
<text transform="translate(739.20,450.84) scale(0.933,1)" font-family="Liberation Sans, sans-serif" font-size="30.0" text-anchor="end" stroke="#000" stroke-width="0.3">200,5</text>
<text transform="translate(739.20,502.02) scale(0.933,1)" font-family="Liberation Sans, sans-serif" font-size="30.0" text-anchor="end" stroke="#000" stroke-width="0.3">200,0</text>
<text transform="translate(739.20,553.20) scale(0.933,1)" font-family="Liberation Sans, sans-serif" font-size="30.0" text-anchor="end" stroke="#000" stroke-width="0.3">199,5</text>
<text transform="translate(804.67,586.00) scale(0.933,1)" font-family="Liberation Sans, sans-serif" font-size="30.0" text-anchor="middle" stroke="#000" stroke-width="0.3">110</text>
<text transform="translate(891.22,586.00) scale(0.933,1)" font-family="Liberation Sans, sans-serif" font-size="30.0" text-anchor="middle" stroke="#000" stroke-width="0.3">120</text>
<text transform="translate(977.77,586.00) scale(0.933,1)" font-family="Liberation Sans, sans-serif" font-size="30.0" text-anchor="middle" stroke="#000" stroke-width="0.3">130</text>
<text transform="translate(1064.32,586.00) scale(0.933,1)" font-family="Liberation Sans, sans-serif" font-size="30.0" text-anchor="middle" stroke="#000" stroke-width="0.3">140</text>
<text x="643.8" y="716.2" font-family="Liberation Sans, sans-serif" font-size="34.5" text-anchor="middle" stroke="#000" stroke-width="0.25">Zeit [min]</text>
<text transform="translate(61.3,358) rotate(-90)" font-family="Liberation Sans, sans-serif" font-size="35" text-anchor="middle" stroke="#000" stroke-width="0.25">Temperatur [°C]</text>
<text x="168" y="127" font-family="Liberation Sans, sans-serif" font-size="28.9" font-weight="bold">Rohrheizung:</text>
<line x1="362.5" y1="117.5" x2="428" y2="117.5" stroke="rgb(220,135,50)" stroke-width="2.6"/>
<text x="435" y="127" font-family="Liberation Sans, sans-serif" font-size="29.2" fill="rgb(220,135,50)">Erdgasbefeuerung</text>
<line x1="689.5" y1="117.5" x2="754.6" y2="117.5" stroke="rgb(96,176,76)" stroke-width="2.6"/>
<text x="762.5" y="127" font-family="Liberation Sans, sans-serif" font-size="29.1" fill="rgb(96,176,76)">Elektrische Beheizung</text>
<text x="169.8" y="178.3" font-family="Liberation Sans, sans-serif" font-size="21.9" fill="rgb(185,185,185)">OG</text>
<text x="163.3" y="229.7" font-family="Liberation Sans, sans-serif" font-size="21.9" fill="rgb(185,185,185)">SOLLWERT</text>
<text x="172.3" y="285.7" font-family="Liberation Sans, sans-serif" font-size="21.9" fill="rgb(185,185,185)">UG</text>
</svg>
</body></html>
